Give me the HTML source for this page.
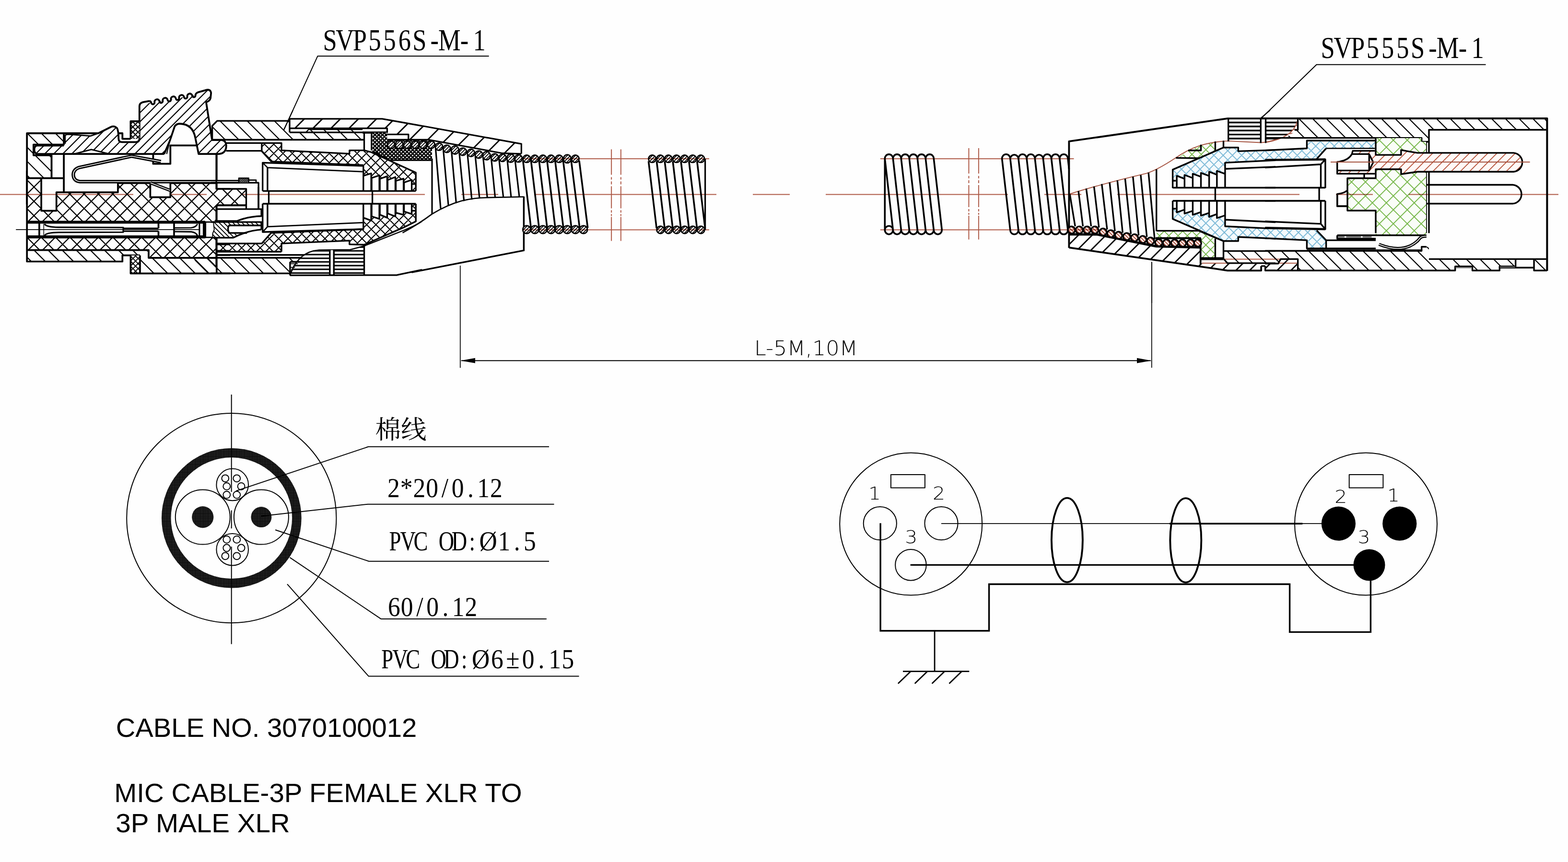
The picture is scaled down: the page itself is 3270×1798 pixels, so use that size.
<!DOCTYPE html>
<html lang="en"><head><meta charset="utf-8"><title>MIC CABLE-3P FEMALE XLR TO 3P MALE XLR</title>
<style>html,body{margin:0;padding:0;background:#fefefe;}body{width:3270px;height:1798px;overflow:hidden;position:relative;}svg{position:absolute;left:0;top:0;display:block}text{font-family:"Liberation Sans",sans-serif;fill:#000}</style></head><body>
<svg width="3270" height="1798" viewBox="0 0 3270 1798" stroke-linecap="butt" stroke-linejoin="round">
<defs>
<clipPath id="c1"><path d="M 1352.5 331.2 A 7.7 7.7 0 1 0 1367.9 331.2 A 7.7 7.7 0 1 0 1352.5 331.2 Z"/></clipPath>
<clipPath id="c2"><path d="M 1369.4 331.2 A 7.7 7.7 0 1 0 1384.8 331.2 A 7.7 7.7 0 1 0 1369.4 331.2 Z"/></clipPath>
<clipPath id="c3"><path d="M 1386.2 331.2 A 7.7 7.7 0 1 0 1401.6 331.2 A 7.7 7.7 0 1 0 1386.2 331.2 Z"/></clipPath>
<clipPath id="c4"><path d="M 1403.1 331.2 A 7.7 7.7 0 1 0 1418.5 331.2 A 7.7 7.7 0 1 0 1403.1 331.2 Z"/></clipPath>
<clipPath id="c5"><path d="M 1420 331.2 A 7.7 7.7 0 1 0 1435.4 331.2 A 7.7 7.7 0 1 0 1420 331.2 Z"/></clipPath>
<clipPath id="c6"><path d="M 1436.8 331.2 A 7.7 7.7 0 1 0 1452.2 331.2 A 7.7 7.7 0 1 0 1436.8 331.2 Z"/></clipPath>
<clipPath id="c7"><path d="M 1453.7 331.2 A 7.7 7.7 0 1 0 1469.1 331.2 A 7.7 7.7 0 1 0 1453.7 331.2 Z"/></clipPath>
<clipPath id="c8"><path d="M 1369.6 479.4 A 7.7 7.7 0 1 0 1385 479.4 A 7.7 7.7 0 1 0 1369.6 479.4 Z"/></clipPath>
<clipPath id="c9"><path d="M 1386.5 479.4 A 7.7 7.7 0 1 0 1401.9 479.4 A 7.7 7.7 0 1 0 1386.5 479.4 Z"/></clipPath>
<clipPath id="c10"><path d="M 1403.3 479.4 A 7.7 7.7 0 1 0 1418.7 479.4 A 7.7 7.7 0 1 0 1403.3 479.4 Z"/></clipPath>
<clipPath id="c11"><path d="M 1420.2 479.4 A 7.7 7.7 0 1 0 1435.6 479.4 A 7.7 7.7 0 1 0 1420.2 479.4 Z"/></clipPath>
<clipPath id="c12"><path d="M 1437.1 479.4 A 7.7 7.7 0 1 0 1452.5 479.4 A 7.7 7.7 0 1 0 1437.1 479.4 Z"/></clipPath>
<clipPath id="c13"><path d="M 1453.9 479.4 A 7.7 7.7 0 1 0 1469.3 479.4 A 7.7 7.7 0 1 0 1453.9 479.4 Z"/></clipPath>
<clipPath id="c14"><path d="M 56.2 371.7 L 86.1 371.7 L 86.1 439.6 L 117.7 439.6 L 117.7 401.1 L 245.9 401.1 L 245.9 382 L 313.4 382 L 313.4 411.4 L 355.3 411.4 L 355.3 382 L 451.8 382 L 451.8 395.1 L 513.3 395.1 L 513.3 428.4 L 451.8 428.4 L 451.8 460.9 L 56.2 460.9 Z"/></clipPath>
<clipPath id="c15"><path d="M 56.2 496.8 L 451.8 496.8 L 451.8 537.8 L 310 537.8 L 310 521.6 L 56.2 521.6 Z"/></clipPath>
<clipPath id="c16"><path d="M 56.2 521.6 L 310 521.6 L 310 532.7 L 255.3 532.7 L 255.3 545.5 L 56.2 545.5 Z"/></clipPath>
<clipPath id="c17"><path d="M 272.4 532.7 L 292 532.7 L 292 570.3 L 272.4 570.3 Z"/></clipPath>
<clipPath id="c18"><path d="M 292 532.7 L 310 532.7 L 310 537.8 L 451.8 537.8 L 451.8 570.3 L 292 570.3 Z"/></clipPath>
<clipPath id="c19"><path d="M 56.2 278 L 133.1 278 L 133.1 301.6 L 69.9 301.6 L 69.9 323.8 L 107.5 323.8 L 107.5 371.6 L 56.2 371.6 Z"/></clipPath>
<clipPath id="c20"><path d="M 76.7 303.6 L 133.1 303.6 L 135.7 299.9 L 135.7 284.5 Q 135.7 280.2 142.5 280.2 L 188.7 283.6 L 204 278.5 L 231.4 264.8 Q 238.2 261.4 244.2 267.4 Q 247.1 272.5 247.3 289.6 Q 247.6 296.4 254.4 296.4 L 283.5 296.4 Q 290.8 296.4 290.8 288.8 L 290.8 221.3 Q 291.2 214.8 298 213.1 L 311.7 214.8 L 407.4 198.2 L 411.7 192.9 L 431.3 187.4 Q 439 186.2 440.2 193.9 L 439 205 Q 437.3 211 429.9 213.1 L 441.9 289.6 L 442.9 292.2 L 462.1 292.2 Q 470.6 293 471.8 302.4 L 471.5 308.7 Q 468.9 320.4 456.9 321.2 L 414.2 321.2 L 407.4 287.9 Q 402.3 258.9 374.9 258 Q 368.1 258 364.3 263.6 L 354.4 293 L 342.4 321.2 L 228 321.2 L 190.4 311.8 L 154.5 321.2 L 76.7 320.7 Q 70.8 318.7 71.6 311.8 Q 71.6 305.8 76.7 303.6 Z"/></clipPath>
<clipPath id="c21"><path d="M 272.4 252.9 L 290.8 252.9 L 290.8 289.6 L 272.4 289.6 Z"/></clipPath>
<clipPath id="c22"><path d="M 405.8 537.8 L 634.8 537.8 L 624.5 546.3 L 604.9 546.3 L 604.9 570.3 L 405.8 570.3 Z"/></clipPath>
<clipPath id="c23"><path d="M 604.9 573.7 L 604.9 567.7 Q 619.4 531.8 653.6 523.3 L 665.6 521.6 L 730.5 520.7 L 759.5 513 L 759.5 573.7 Z"/></clipPath>
<clipPath id="c24"><path d="M 604.9 546.3 L 624.5 546.3 L 612.6 560.9 L 604.9 573.7 Z"/></clipPath>
<clipPath id="c25"><path d="M 452 507.9 L 545.9 507.9 L 565.6 485.7 L 757.8 478 L 757.8 454.1 L 774.1 460.1 L 775.8 451.5 L 791.1 456.6 L 792.9 448.1 L 807.4 454.1 L 809.1 445.5 L 824.5 451.5 L 826.2 443.8 L 841.6 448.1 L 843.3 441.3 L 858.6 446.4 L 858.6 425 L 867.2 425 L 867.2 461.8 Q 841.6 475.4 815.9 485.7 L 759.5 510.5 L 728.8 509.6 L 728.8 501.9 L 587 507.9 L 587 525 L 452 525 Z"/></clipPath>
<clipPath id="c26"><path d="M 445.1 463.5 L 545.1 463.5 L 545.1 470.3 L 477.6 470.3 Q 473.3 477.1 477.6 485.7 L 496.4 488.3 L 486.1 495.9 L 443.4 495.9 L 443.4 487.4 L 446.8 478.9 L 445.1 470.3 Z"/></clipPath>
<clipPath id="c27"><path d="M 442.6 262.5 L 452.8 252.2 L 604 252.2 L 604 276.1 L 638.2 276.1 L 643.3 270.2 L 756.1 270.2 L 759.5 277 L 759.5 291.5 L 442.6 291.5 Z"/></clipPath>
<clipPath id="c28"><path d="M 604 247.9 L 797.1 247.9 L 880 262.5 L 880 291.5 L 851.8 291.5 L 851.8 280.4 L 807.4 280.4 L 807.4 267.6 L 604 267.6 Z"/></clipPath>
<clipPath id="c29"><path d="M 776.6 277 L 807.4 277 L 807.4 293.2 L 901 293.2 L 901 334.2 L 812.5 334.2 L 776.6 315.4 Z"/></clipPath>
<clipPath id="c30"><path d="M 545.9 298.3 L 587 298.3 L 587 313.7 L 728.8 320.6 L 728.8 313.7 L 759.5 313.7 L 773.2 317.1 L 867.2 359.9 L 867.2 398.3 L 858.6 398.3 L 858.6 375.2 L 843.3 380.4 L 841.6 372.7 L 826.2 377 L 824.5 369.3 L 809.1 375.2 L 807.4 367.6 L 792.9 372.7 L 791.1 365.8 L 775.8 371 L 774.1 361.6 L 757.8 366.7 L 757.8 344.5 L 565.6 336.8 L 545.9 315.4 Z"/></clipPath>
<clipPath id="c31"><path d="M 498.1 371.5 L 518.6 371.5 L 518.6 380.4 L 498.1 380.4 Z"/></clipPath>
<clipPath id="c32"><path d="M 880 262.5 L 1087.3 300.1 L 1087.3 320.6 L 1048 318.9 L 894.2 291.5 L 880 291.5 Z"/></clipPath>
<clipPath id="c33"><path d="M 1090.2 478.9 A 8.2 8.2 0 1 0 1106.6 478.9 A 8.2 8.2 0 1 0 1090.2 478.9 Z"/></clipPath>
<clipPath id="c34"><path d="M 1107.1 478.9 A 8.2 8.2 0 1 0 1123.5 478.9 A 8.2 8.2 0 1 0 1107.1 478.9 Z"/></clipPath>
<clipPath id="c35"><path d="M 1124 478.9 A 8.2 8.2 0 1 0 1140.4 478.9 A 8.2 8.2 0 1 0 1124 478.9 Z"/></clipPath>
<clipPath id="c36"><path d="M 1140.9 478.9 A 8.2 8.2 0 1 0 1157.3 478.9 A 8.2 8.2 0 1 0 1140.9 478.9 Z"/></clipPath>
<clipPath id="c37"><path d="M 1157.8 478.9 A 8.2 8.2 0 1 0 1174.2 478.9 A 8.2 8.2 0 1 0 1157.8 478.9 Z"/></clipPath>
<clipPath id="c38"><path d="M 1174.7 478.9 A 8.2 8.2 0 1 0 1191.2 478.9 A 8.2 8.2 0 1 0 1174.7 478.9 Z"/></clipPath>
<clipPath id="c39"><path d="M 1191.7 478.9 A 8.2 8.2 0 1 0 1208.1 478.9 A 8.2 8.2 0 1 0 1191.7 478.9 Z"/></clipPath>
<clipPath id="c40"><path d="M 1208.6 478.9 A 8.2 8.2 0 1 0 1225 478.9 A 8.2 8.2 0 1 0 1208.6 478.9 Z"/></clipPath>
<clipPath id="c41"><path d="M 807.9 301.8 A 7.7 7.7 0 1 0 823.3 301.8 A 7.7 7.7 0 1 0 807.9 301.8 Z"/></clipPath>
<clipPath id="c42"><path d="M 825 301.8 A 7.7 7.7 0 1 0 840.3 301.8 A 7.7 7.7 0 1 0 825 301.8 Z"/></clipPath>
<clipPath id="c43"><path d="M 841.7 301.8 A 7.7 7.7 0 1 0 857.1 301.8 A 7.7 7.7 0 1 0 841.7 301.8 Z"/></clipPath>
<clipPath id="c44"><path d="M 858.3 301.8 A 7.7 7.7 0 1 0 873.7 301.8 A 7.7 7.7 0 1 0 858.3 301.8 Z"/></clipPath>
<clipPath id="c45"><path d="M 874.5 301.8 A 7.7 7.7 0 1 0 889.9 301.8 A 7.7 7.7 0 1 0 874.5 301.8 Z"/></clipPath>
<clipPath id="c46"><path d="M 891.6 301.8 A 7.7 7.7 0 1 0 907 301.8 A 7.7 7.7 0 1 0 891.6 301.8 Z"/></clipPath>
<clipPath id="c47"><path d="M 907.8 306 A 7.7 7.7 0 1 0 923.2 306 A 7.7 7.7 0 1 0 907.8 306 Z"/></clipPath>
<clipPath id="c48"><path d="M 924.1 310.3 A 7.7 7.7 0 1 0 939.5 310.3 A 7.7 7.7 0 1 0 924.1 310.3 Z"/></clipPath>
<clipPath id="c49"><path d="M 941.2 312.9 A 7.7 7.7 0 1 0 956.5 312.9 A 7.7 7.7 0 1 0 941.2 312.9 Z"/></clipPath>
<clipPath id="c50"><path d="M 957.4 316.3 A 7.7 7.7 0 1 0 972.8 316.3 A 7.7 7.7 0 1 0 957.4 316.3 Z"/></clipPath>
<clipPath id="c51"><path d="M 974.5 318.9 A 7.7 7.7 0 1 0 989.9 318.9 A 7.7 7.7 0 1 0 974.5 318.9 Z"/></clipPath>
<clipPath id="c52"><path d="M 990.7 322.3 A 7.7 7.7 0 1 0 1006.1 322.3 A 7.7 7.7 0 1 0 990.7 322.3 Z"/></clipPath>
<clipPath id="c53"><path d="M 1007 324.8 A 7.7 7.7 0 1 0 1022.3 324.8 A 7.7 7.7 0 1 0 1007 324.8 Z"/></clipPath>
<clipPath id="c54"><path d="M 1024 328.3 A 7.7 7.7 0 1 0 1039.4 328.3 A 7.7 7.7 0 1 0 1024 328.3 Z"/></clipPath>
<clipPath id="c55"><path d="M 1040.3 329.1 A 7.7 7.7 0 1 0 1055.7 329.1 A 7.7 7.7 0 1 0 1040.3 329.1 Z"/></clipPath>
<clipPath id="c56"><path d="M 1057.4 330 A 7.7 7.7 0 1 0 1072.7 330 A 7.7 7.7 0 1 0 1057.4 330 Z"/></clipPath>
<clipPath id="c57"><path d="M 1073.6 330.5 A 7.7 7.7 0 1 0 1089 330.5 A 7.7 7.7 0 1 0 1073.6 330.5 Z"/></clipPath>
<clipPath id="c58"><path d="M 1090.7 331.2 A 7.7 7.7 0 1 0 1106.1 331.2 A 7.7 7.7 0 1 0 1090.7 331.2 Z"/></clipPath>
<clipPath id="c59"><path d="M 1107.6 331.2 A 7.7 7.7 0 1 0 1123 331.2 A 7.7 7.7 0 1 0 1107.6 331.2 Z"/></clipPath>
<clipPath id="c60"><path d="M 1124.5 331.2 A 7.7 7.7 0 1 0 1139.9 331.2 A 7.7 7.7 0 1 0 1124.5 331.2 Z"/></clipPath>
<clipPath id="c61"><path d="M 1141.4 331.2 A 7.7 7.7 0 1 0 1156.8 331.2 A 7.7 7.7 0 1 0 1141.4 331.2 Z"/></clipPath>
<clipPath id="c62"><path d="M 1158.3 331.2 A 7.7 7.7 0 1 0 1173.7 331.2 A 7.7 7.7 0 1 0 1158.3 331.2 Z"/></clipPath>
<clipPath id="c63"><path d="M 1175.3 331.2 A 7.7 7.7 0 1 0 1190.6 331.2 A 7.7 7.7 0 1 0 1175.3 331.2 Z"/></clipPath>
<clipPath id="c64"><path d="M 1192.2 331.2 A 7.7 7.7 0 1 0 1207.6 331.2 A 7.7 7.7 0 1 0 1192.2 331.2 Z"/></clipPath>
<clipPath id="c65"><path d="M 2445.6 353.9 L 2551.5 307.7 L 2582.3 307.7 L 2582.3 315.4 L 2660 312.9 L 2660 334.2 L 2554.9 339.4 L 2554.9 362.4 L 2537.8 356.4 L 2537 364.1 L 2521.6 358.2 L 2519.9 366.7 L 2504.5 360.7 L 2503.7 368.4 L 2487.4 362.4 L 2486.6 371 L 2470.3 365 L 2469.5 372.7 L 2454.1 366.7 L 2454.1 377 L 2445.6 377 Z"/></clipPath>
<clipPath id="c66"><path d="M 2459.2 328.8 L 2476.3 313.7 L 2501.9 303.8 L 2532.7 296.3 L 2532.7 315.4 L 2501.9 329.1 Z"/></clipPath>
<clipPath id="c67"><path d="M 2561.7 247.1 L 2629.2 247.1 L 2629.2 293.2 L 2561.7 293.2 Z"/></clipPath>
<clipPath id="c68"><path d="M 2445.6 436.1 L 2454.1 436.1 L 2454.1 443 L 2469.5 437.8 L 2470.3 445.5 L 2486.6 440.4 L 2487.4 448.1 L 2503.7 443 L 2504.5 449.8 L 2519.9 444.7 L 2521.6 452.4 L 2537 447.2 L 2537.8 454.9 L 2554.1 449 L 2554.9 472 L 2660 477.1 L 2660 497.7 L 2582.3 494.2 L 2582.3 502.8 L 2551.5 502.8 L 2445.6 456.6 Z"/></clipPath>
<clipPath id="c69"><path d="M 2412.2 483.1 L 2500.2 483.1 L 2532.7 497.7 L 2532.7 537 L 2504.5 537 L 2504.5 496.8 L 2412.2 496.8 Z"/></clipPath>
<clipPath id="c70"><path d="M 2229.4 489.1 L 2288.3 489.1 L 2411.4 513.9 L 2503.7 516.1 L 2503.7 549.8 L 2630.1 549.8 L 2630.1 564.3 L 2560 564.3 L 2229.4 516.4 Z"/></clipPath>
<clipPath id="c71"><path d="M 2227 479.7 A 7.5 7.5 0 1 0 2242 479.7 A 7.5 7.5 0 1 0 2227 479.7 Z"/></clipPath>
<clipPath id="c72"><path d="M 2243.2 479.7 A 7.5 7.5 0 1 0 2258.3 479.7 A 7.5 7.5 0 1 0 2243.2 479.7 Z"/></clipPath>
<clipPath id="c73"><path d="M 2259.5 479.7 A 7.5 7.5 0 1 0 2274.5 479.7 A 7.5 7.5 0 1 0 2259.5 479.7 Z"/></clipPath>
<clipPath id="c74"><path d="M 2275.7 479.7 A 7.5 7.5 0 1 0 2290.7 479.7 A 7.5 7.5 0 1 0 2275.7 479.7 Z"/></clipPath>
<clipPath id="c75"><path d="M 2292.8 484 A 7.5 7.5 0 1 0 2307.8 484 A 7.5 7.5 0 1 0 2292.8 484 Z"/></clipPath>
<clipPath id="c76"><path d="M 2309 487.4 A 7.5 7.5 0 1 0 2324.1 487.4 A 7.5 7.5 0 1 0 2309 487.4 Z"/></clipPath>
<clipPath id="c77"><path d="M 2325.3 490.8 A 7.5 7.5 0 1 0 2340.3 490.8 A 7.5 7.5 0 1 0 2325.3 490.8 Z"/></clipPath>
<clipPath id="c78"><path d="M 2342.3 493.4 A 7.5 7.5 0 1 0 2357.4 493.4 A 7.5 7.5 0 1 0 2342.3 493.4 Z"/></clipPath>
<clipPath id="c79"><path d="M 2358.6 495.9 A 7.5 7.5 0 1 0 2373.6 495.9 A 7.5 7.5 0 1 0 2358.6 495.9 Z"/></clipPath>
<clipPath id="c80"><path d="M 2375.7 499.4 A 7.5 7.5 0 1 0 2390.7 499.4 A 7.5 7.5 0 1 0 2375.7 499.4 Z"/></clipPath>
<clipPath id="c81"><path d="M 2391.9 502.8 A 7.5 7.5 0 1 0 2406.9 502.8 A 7.5 7.5 0 1 0 2391.9 502.8 Z"/></clipPath>
<clipPath id="c82"><path d="M 2409 506.2 A 7.5 7.5 0 1 0 2424 506.2 A 7.5 7.5 0 1 0 2409 506.2 Z"/></clipPath>
<clipPath id="c83"><path d="M 2425.2 507 A 7.5 7.5 0 1 0 2440.3 507 A 7.5 7.5 0 1 0 2425.2 507 Z"/></clipPath>
<clipPath id="c84"><path d="M 2442.3 507 A 7.5 7.5 0 1 0 2457.3 507 A 7.5 7.5 0 1 0 2442.3 507 Z"/></clipPath>
<clipPath id="c85"><path d="M 2458.5 507 A 7.5 7.5 0 1 0 2473.6 507 A 7.5 7.5 0 1 0 2458.5 507 Z"/></clipPath>
<clipPath id="c86"><path d="M 2475.6 507 A 7.5 7.5 0 1 0 2490.7 507 A 7.5 7.5 0 1 0 2475.6 507 Z"/></clipPath>
<clipPath id="c87"><path d="M 2490.2 507 A 7.5 7.5 0 1 0 2505.2 507 A 7.5 7.5 0 1 0 2490.2 507 Z"/></clipPath>
<clipPath id="c88"><path d="M 2552.3 523.6 L 2660 523.6 L 2660 548.6 L 2559.7 548.6 L 2552.3 540.5 Z"/></clipPath>
<clipPath id="c89"><path d="M 2639.5 247.1 L 2706.6 247.1 Q 2701.5 286.4 2640 296.6 L 2639.5 297.5 Z"/></clipPath>
<clipPath id="c90"><path d="M 2706.6 247.1 L 2706.6 271 L 2681 287.2 L 2640 296.6 Q 2701.5 286.4 2706.6 247.1 Z"/></clipPath>
<clipPath id="c91"><path d="M 2706.6 247.1 L 3226.4 247.1 L 3226.4 270.7 L 2980 270.7 L 2980 295.8 L 2964.7 295.8 L 2964.7 287.2 L 2681 287.2 L 2706.6 271 Z"/></clipPath>
<clipPath id="c92"><path d="M 2727.1 293.2 L 2867.3 293.2 L 2867.3 308.9 L 2765.6 309.5 L 2745.9 331.2 L 2638.3 333.4 L 2638.3 313.7 L 2725.4 309.5 L 2725.4 293.2 Z"/></clipPath>
<clipPath id="c93"><path d="M 2821.1 315.4 L 2867.3 315.4 L 2867.3 323.1 L 2921.9 323.1 L 2921.9 313.7 L 2956.1 318.9 L 3156.4 318.9 A 19.7 19.7 0 0 1 3156.4 358.2 L 2956.1 358.2 L 2921.9 363.3 L 2921.9 353 L 2867.3 353 L 2867.3 362.4 L 2788.7 362.4 L 2788.7 355.6 L 2855.3 355.6 L 2863.8 338.5 L 2855.3 321.4 L 2819.4 321.4 Z"/></clipPath>
<clipPath id="c94"><path d="M 2869 288.1 L 2963.8 288.1 L 2963.8 295.8 L 2974.1 295.8 L 2974.1 316.3 L 2956.1 318 L 2921.9 312.9 L 2921.9 323.1 L 2869 323.1 Z"/></clipPath>
<clipPath id="c95"><path d="M 2869 353.9 L 2921.9 353.9 L 2921.9 363.3 L 2956.1 358.2 L 2974.1 359 L 2974.1 491.4 L 2869 491.4 L 2869 439.3 L 2810 439.3 L 2810 371.8 L 2869 371.8 Z"/></clipPath>
<clipPath id="c96"><path d="M 2638.3 523.3 L 2964.7 523.3 L 2964.7 514.7 L 2980 514.7 L 2980 540.4 L 3160.7 540.4 L 3160.7 555.7 L 3127.3 555.7 L 3127.3 564.3 L 3070.6 564.3 L 3070.6 555.7 L 3034.7 555.7 L 3034.7 564.3 L 2706.6 564.3 L 2706.6 540.4 L 2670.8 540.4 L 2665.6 549.8 L 2638.3 549.8 Z"/></clipPath>
<clipPath id="c97"><path d="M 2638.3 549.8 L 2665.6 549.8 L 2670.8 540.4 L 2706.6 540.4 L 2706.6 564.3 L 2638.3 564.3 Z"/></clipPath>
<clipPath id="c98"><path d="M 3199.1 540.4 L 3226.4 540.4 L 3226.4 564.3 L 3199.1 564.3 Z"/></clipPath>
<clipPath id="c99"><path d="M 2638.3 478 L 2745.9 480.6 L 2765.6 501.1 L 2765.6 518.2 L 2725.4 518.2 L 2725.4 501.1 L 2638.3 496.8 Z"/></clipPath>
<pattern id="dots" width="3.4" height="3.4" patternUnits="userSpaceOnUse"><rect width="3.4" height="3.4" fill="#0c0c0c"/><circle cx="1.7" cy="1.7" r="0.55" fill="#9a9a9a"/></pattern>
</defs>
<path d="M 1352.5 336.2 L 1369.3 476.4" stroke="#000" stroke-width="3.6" fill="none" />
<path d="M 1369.4 336.2 L 1386.2 476.4" stroke="#000" stroke-width="3.6" fill="none" />
<path d="M 1386.2 336.2 L 1403 476.4" stroke="#000" stroke-width="3.6" fill="none" />
<path d="M 1403.1 336.2 L 1419.9 476.4" stroke="#000" stroke-width="3.6" fill="none" />
<path d="M 1420 336.2 L 1436.8 476.4" stroke="#000" stroke-width="3.6" fill="none" />
<path d="M 1436.8 336.2 L 1453.6 476.4" stroke="#000" stroke-width="3.6" fill="none" />
<path d="M 1453.7 336.2 L 1470.5 476.4" stroke="#000" stroke-width="3.6" fill="none" />
<path d="M 1470.6 331.2 L 1470.6 479.4" stroke="#000" stroke-width="3.2" fill="none" />
<path d="M 1352.5 331.2 A 7.7 7.7 0 1 0 1367.9 331.2 A 7.7 7.7 0 1 0 1352.5 331.2 Z" fill="#fefefe" stroke="none" />
<g clip-path="url(#c1)" ><path d="M1332.1 313.8L1297.3 348.6M1338.6 313.8L1303.8 348.6M1345.1 313.8L1310.3 348.6M1351.6 313.8L1316.8 348.6M1358.1 313.8L1323.3 348.6M1364.6 313.8L1329.8 348.6M1371.1 313.8L1336.3 348.6M1377.6 313.8L1342.8 348.6M1384.1 313.8L1349.3 348.6M1390.6 313.8L1355.8 348.6M1397.1 313.8L1362.3 348.6M1403.6 313.8L1368.8 348.6M1410.1 313.8L1375.3 348.6M1416.6 313.8L1381.8 348.6M1423.1 313.8L1388.3 348.6" stroke="#000" stroke-width="1.8" fill="none"/></g>
<path d="M 1352.5 331.2 A 7.7 7.7 0 1 0 1367.9 331.2 A 7.7 7.7 0 1 0 1352.5 331.2 Z" stroke="#000" stroke-width="2.8000000000000003" fill="none" />
<path d="M 1369.4 331.2 A 7.7 7.7 0 1 0 1384.8 331.2 A 7.7 7.7 0 1 0 1369.4 331.2 Z" fill="#fefefe" stroke="none" />
<g clip-path="url(#c2)" ><path d="M1349 313.8L1314.2 348.6M1355.5 313.8L1320.7 348.6M1362 313.8L1327.2 348.6M1368.5 313.8L1333.7 348.6M1375 313.8L1340.2 348.6M1381.5 313.8L1346.7 348.6M1388 313.8L1353.2 348.6M1394.5 313.8L1359.7 348.6M1401 313.8L1366.2 348.6M1407.5 313.8L1372.7 348.6M1414 313.8L1379.2 348.6M1420.5 313.8L1385.7 348.6M1427 313.8L1392.2 348.6M1433.5 313.8L1398.7 348.6M1440 313.8L1405.2 348.6" stroke="#000" stroke-width="1.8" fill="none"/></g>
<path d="M 1369.4 331.2 A 7.7 7.7 0 1 0 1384.8 331.2 A 7.7 7.7 0 1 0 1369.4 331.2 Z" stroke="#000" stroke-width="2.8000000000000003" fill="none" />
<path d="M 1386.2 331.2 A 7.7 7.7 0 1 0 1401.6 331.2 A 7.7 7.7 0 1 0 1386.2 331.2 Z" fill="#fefefe" stroke="none" />
<g clip-path="url(#c3)" ><path d="M1365.8 313.8L1331 348.6M1372.3 313.8L1337.5 348.6M1378.8 313.8L1344 348.6M1385.3 313.8L1350.5 348.6M1391.8 313.8L1357 348.6M1398.3 313.8L1363.5 348.6M1404.8 313.8L1370 348.6M1411.3 313.8L1376.5 348.6M1417.8 313.8L1383 348.6M1424.3 313.8L1389.5 348.6M1430.8 313.8L1396 348.6M1437.3 313.8L1402.5 348.6M1443.8 313.8L1409 348.6M1450.3 313.8L1415.5 348.6M1456.8 313.8L1422 348.6" stroke="#000" stroke-width="1.8" fill="none"/></g>
<path d="M 1386.2 331.2 A 7.7 7.7 0 1 0 1401.6 331.2 A 7.7 7.7 0 1 0 1386.2 331.2 Z" stroke="#000" stroke-width="2.8000000000000003" fill="none" />
<path d="M 1403.1 331.2 A 7.7 7.7 0 1 0 1418.5 331.2 A 7.7 7.7 0 1 0 1403.1 331.2 Z" fill="#fefefe" stroke="none" />
<g clip-path="url(#c4)" ><path d="M1382.7 313.8L1347.9 348.6M1389.2 313.8L1354.4 348.6M1395.7 313.8L1360.9 348.6M1402.2 313.8L1367.4 348.6M1408.7 313.8L1373.9 348.6M1415.2 313.8L1380.4 348.6M1421.7 313.8L1386.9 348.6M1428.2 313.8L1393.4 348.6M1434.7 313.8L1399.9 348.6M1441.2 313.8L1406.4 348.6M1447.7 313.8L1412.9 348.6M1454.2 313.8L1419.4 348.6M1460.7 313.8L1425.9 348.6M1467.2 313.8L1432.4 348.6M1473.7 313.8L1438.9 348.6" stroke="#000" stroke-width="1.8" fill="none"/></g>
<path d="M 1403.1 331.2 A 7.7 7.7 0 1 0 1418.5 331.2 A 7.7 7.7 0 1 0 1403.1 331.2 Z" stroke="#000" stroke-width="2.8000000000000003" fill="none" />
<path d="M 1420 331.2 A 7.7 7.7 0 1 0 1435.4 331.2 A 7.7 7.7 0 1 0 1420 331.2 Z" fill="#fefefe" stroke="none" />
<g clip-path="url(#c5)" ><path d="M1399.6 313.8L1364.8 348.6M1406.1 313.8L1371.3 348.6M1412.6 313.8L1377.8 348.6M1419.1 313.8L1384.3 348.6M1425.6 313.8L1390.8 348.6M1432.1 313.8L1397.3 348.6M1438.6 313.8L1403.8 348.6M1445.1 313.8L1410.3 348.6M1451.6 313.8L1416.8 348.6M1458.1 313.8L1423.3 348.6M1464.6 313.8L1429.8 348.6M1471.1 313.8L1436.3 348.6M1477.6 313.8L1442.8 348.6M1484.1 313.8L1449.3 348.6M1490.6 313.8L1455.8 348.6" stroke="#000" stroke-width="1.8" fill="none"/></g>
<path d="M 1420 331.2 A 7.7 7.7 0 1 0 1435.4 331.2 A 7.7 7.7 0 1 0 1420 331.2 Z" stroke="#000" stroke-width="2.8000000000000003" fill="none" />
<path d="M 1436.8 331.2 A 7.7 7.7 0 1 0 1452.2 331.2 A 7.7 7.7 0 1 0 1436.8 331.2 Z" fill="#fefefe" stroke="none" />
<g clip-path="url(#c6)" ><path d="M1416.5 313.8L1381.7 348.6M1423 313.8L1388.2 348.6M1429.5 313.8L1394.7 348.6M1436 313.8L1401.2 348.6M1442.5 313.8L1407.7 348.6M1449 313.8L1414.2 348.6M1455.5 313.8L1420.7 348.6M1462 313.8L1427.2 348.6M1468.5 313.8L1433.7 348.6M1475 313.8L1440.2 348.6M1481.5 313.8L1446.7 348.6M1488 313.8L1453.2 348.6M1494.5 313.8L1459.7 348.6M1501 313.8L1466.2 348.6M1507.5 313.8L1472.7 348.6" stroke="#000" stroke-width="1.8" fill="none"/></g>
<path d="M 1436.8 331.2 A 7.7 7.7 0 1 0 1452.2 331.2 A 7.7 7.7 0 1 0 1436.8 331.2 Z" stroke="#000" stroke-width="2.8000000000000003" fill="none" />
<path d="M 1453.7 331.2 A 7.7 7.7 0 1 0 1469.1 331.2 A 7.7 7.7 0 1 0 1453.7 331.2 Z" fill="#fefefe" stroke="none" />
<g clip-path="url(#c7)" ><path d="M1433.3 313.8L1398.5 348.6M1439.8 313.8L1405 348.6M1446.3 313.8L1411.5 348.6M1452.8 313.8L1418 348.6M1459.3 313.8L1424.5 348.6M1465.8 313.8L1431 348.6M1472.3 313.8L1437.5 348.6M1478.8 313.8L1444 348.6M1485.3 313.8L1450.5 348.6M1491.8 313.8L1457 348.6M1498.3 313.8L1463.5 348.6M1504.8 313.8L1470 348.6M1511.3 313.8L1476.5 348.6M1517.8 313.8L1483 348.6M1524.3 313.8L1489.5 348.6" stroke="#000" stroke-width="1.8" fill="none"/></g>
<path d="M 1453.7 331.2 A 7.7 7.7 0 1 0 1469.1 331.2 A 7.7 7.7 0 1 0 1453.7 331.2 Z" stroke="#000" stroke-width="2.8000000000000003" fill="none" />
<path d="M 1369.6 479.4 A 7.7 7.7 0 1 0 1385 479.4 A 7.7 7.7 0 1 0 1369.6 479.4 Z" fill="#fefefe" stroke="none" />
<g clip-path="url(#c8)" ><path d="M1349.2 462L1314.4 496.8M1355.7 462L1320.9 496.8M1362.2 462L1327.4 496.8M1368.7 462L1333.9 496.8M1375.2 462L1340.4 496.8M1381.7 462L1346.9 496.8M1388.2 462L1353.4 496.8M1394.7 462L1359.9 496.8M1401.2 462L1366.4 496.8M1407.7 462L1372.9 496.8M1414.2 462L1379.4 496.8M1420.7 462L1385.9 496.8M1427.2 462L1392.4 496.8M1433.7 462L1398.9 496.8M1440.2 462L1405.4 496.8" stroke="#000" stroke-width="1.8" fill="none"/></g>
<path d="M 1369.6 479.4 A 7.7 7.7 0 1 0 1385 479.4 A 7.7 7.7 0 1 0 1369.6 479.4 Z" stroke="#000" stroke-width="2.8000000000000003" fill="none" />
<path d="M 1386.5 479.4 A 7.7 7.7 0 1 0 1401.9 479.4 A 7.7 7.7 0 1 0 1386.5 479.4 Z" fill="#fefefe" stroke="none" />
<g clip-path="url(#c9)" ><path d="M1366.1 462L1331.3 496.8M1372.6 462L1337.8 496.8M1379.1 462L1344.3 496.8M1385.6 462L1350.8 496.8M1392.1 462L1357.3 496.8M1398.6 462L1363.8 496.8M1405.1 462L1370.3 496.8M1411.6 462L1376.8 496.8M1418.1 462L1383.3 496.8M1424.6 462L1389.8 496.8M1431.1 462L1396.3 496.8M1437.6 462L1402.8 496.8M1444.1 462L1409.3 496.8M1450.6 462L1415.8 496.8M1457.1 462L1422.3 496.8" stroke="#000" stroke-width="1.8" fill="none"/></g>
<path d="M 1386.5 479.4 A 7.7 7.7 0 1 0 1401.9 479.4 A 7.7 7.7 0 1 0 1386.5 479.4 Z" stroke="#000" stroke-width="2.8000000000000003" fill="none" />
<path d="M 1403.3 479.4 A 7.7 7.7 0 1 0 1418.7 479.4 A 7.7 7.7 0 1 0 1403.3 479.4 Z" fill="#fefefe" stroke="none" />
<g clip-path="url(#c10)" ><path d="M1382.9 462L1348.1 496.8M1389.4 462L1354.6 496.8M1395.9 462L1361.1 496.8M1402.4 462L1367.6 496.8M1408.9 462L1374.1 496.8M1415.4 462L1380.6 496.8M1421.9 462L1387.1 496.8M1428.4 462L1393.6 496.8M1434.9 462L1400.1 496.8M1441.4 462L1406.6 496.8M1447.9 462L1413.1 496.8M1454.4 462L1419.6 496.8M1460.9 462L1426.1 496.8M1467.4 462L1432.6 496.8M1473.9 462L1439.1 496.8" stroke="#000" stroke-width="1.8" fill="none"/></g>
<path d="M 1403.3 479.4 A 7.7 7.7 0 1 0 1418.7 479.4 A 7.7 7.7 0 1 0 1403.3 479.4 Z" stroke="#000" stroke-width="2.8000000000000003" fill="none" />
<path d="M 1420.2 479.4 A 7.7 7.7 0 1 0 1435.6 479.4 A 7.7 7.7 0 1 0 1420.2 479.4 Z" fill="#fefefe" stroke="none" />
<g clip-path="url(#c11)" ><path d="M1399.8 462L1365 496.8M1406.3 462L1371.5 496.8M1412.8 462L1378 496.8M1419.3 462L1384.5 496.8M1425.8 462L1391 496.8M1432.3 462L1397.5 496.8M1438.8 462L1404 496.8M1445.3 462L1410.5 496.8M1451.8 462L1417 496.8M1458.3 462L1423.5 496.8M1464.8 462L1430 496.8M1471.3 462L1436.5 496.8M1477.8 462L1443 496.8M1484.3 462L1449.5 496.8M1490.8 462L1456 496.8" stroke="#000" stroke-width="1.8" fill="none"/></g>
<path d="M 1420.2 479.4 A 7.7 7.7 0 1 0 1435.6 479.4 A 7.7 7.7 0 1 0 1420.2 479.4 Z" stroke="#000" stroke-width="2.8000000000000003" fill="none" />
<path d="M 1437.1 479.4 A 7.7 7.7 0 1 0 1452.5 479.4 A 7.7 7.7 0 1 0 1437.1 479.4 Z" fill="#fefefe" stroke="none" />
<g clip-path="url(#c12)" ><path d="M1416.7 462L1381.9 496.8M1423.2 462L1388.4 496.8M1429.7 462L1394.9 496.8M1436.2 462L1401.4 496.8M1442.7 462L1407.9 496.8M1449.2 462L1414.4 496.8M1455.7 462L1420.9 496.8M1462.2 462L1427.4 496.8M1468.7 462L1433.9 496.8M1475.2 462L1440.4 496.8M1481.7 462L1446.9 496.8M1488.2 462L1453.4 496.8M1494.7 462L1459.9 496.8M1501.2 462L1466.4 496.8M1507.7 462L1472.9 496.8" stroke="#000" stroke-width="1.8" fill="none"/></g>
<path d="M 1437.1 479.4 A 7.7 7.7 0 1 0 1452.5 479.4 A 7.7 7.7 0 1 0 1437.1 479.4 Z" stroke="#000" stroke-width="2.8000000000000003" fill="none" />
<path d="M 1453.9 479.4 A 7.7 7.7 0 1 0 1469.3 479.4 A 7.7 7.7 0 1 0 1453.9 479.4 Z" fill="#fefefe" stroke="none" />
<g clip-path="url(#c13)" ><path d="M1433.5 462L1398.7 496.8M1440 462L1405.2 496.8M1446.5 462L1411.7 496.8M1453 462L1418.2 496.8M1459.5 462L1424.7 496.8M1466 462L1431.2 496.8M1472.5 462L1437.7 496.8M1479 462L1444.2 496.8M1485.5 462L1450.7 496.8M1492 462L1457.2 496.8M1498.5 462L1463.7 496.8M1505 462L1470.2 496.8M1511.5 462L1476.7 496.8M1518 462L1483.2 496.8M1524.5 462L1489.7 496.8" stroke="#000" stroke-width="1.8" fill="none"/></g>
<path d="M 1453.9 479.4 A 7.7 7.7 0 1 0 1469.3 479.4 A 7.7 7.7 0 1 0 1453.9 479.4 Z" stroke="#000" stroke-width="2.8000000000000003" fill="none" />
<path d="M 1845.3 330.8 L 1845.3 479.8 M 1845.3 330.8 L 1862.3 479.8 M 1862.3 330.8 L 1879.3 479.8 M 1879.3 330.8 L 1896.3 479.8 M 1896.3 330.8 L 1913.3 479.8 M 1913.3 330.8 L 1930.3 479.8 M 1930.3 330.8 L 1947.3 479.8 M 1947.3 330.8 L 1964.3 479.8 M 1845.3 330.8 A 8.5 8.9 0 0 1 1862.3 330.8 M 1862.3 330.8 A 8.5 8.9 0 0 1 1879.3 330.8 M 1879.3 330.8 A 8.5 8.9 0 0 1 1896.3 330.8 M 1896.3 330.8 A 8.5 8.9 0 0 1 1913.3 330.8 M 1913.3 330.8 A 8.5 8.9 0 0 1 1930.3 330.8 M 1930.3 330.8 A 8.5 8.9 0 0 1 1947.3 330.8 M 1845.3 479.8 A 8.5 8.9 0 0 0 1862.3 479.8 M 1862.3 479.8 A 8.5 8.9 0 0 0 1879.3 479.8 M 1879.3 479.8 A 8.5 8.9 0 0 0 1896.3 479.8 M 1896.3 479.8 A 8.5 8.9 0 0 0 1913.3 479.8 M 1913.3 479.8 A 8.5 8.9 0 0 0 1930.3 479.8 M 1930.3 479.8 A 8.5 8.9 0 0 0 1947.3 479.8 M 1947.3 479.8 A 8.5 8.9 0 0 0 1964.3 479.8 M 1845.3 479.8 A 8.5 8.5 0 0 1 1862.3 479.8" stroke="#000" stroke-width="3.6" fill="none" />
<path d="M 2089.6 330.8 L 2106.8 479.8 M 2106.8 330.8 L 2123.9 479.8 M 2123.9 330.8 L 2141.1 479.8 M 2141.1 330.8 L 2158.3 479.8 M 2158.3 330.8 L 2175.4 479.8 M 2175.4 330.8 L 2192.6 479.8 M 2192.6 330.8 L 2209.8 479.8 M 2209.8 330.8 L 2227 479.8 M 2227 330.8 L 2229.5 352.8 M 2089.6 330.8 A 8.6 9 0 0 1 2106.8 330.8 M 2106.8 330.8 A 8.6 9 0 0 1 2123.9 330.8 M 2123.9 330.8 A 8.6 9 0 0 1 2141.1 330.8 M 2141.1 330.8 A 8.6 9 0 0 1 2158.3 330.8 M 2158.3 330.8 A 8.6 9 0 0 1 2175.4 330.8 M 2175.4 330.8 A 8.6 9 0 0 1 2192.6 330.8 M 2192.6 330.8 A 8.6 9 0 0 1 2209.8 330.8 M 2209.8 330.8 A 8.6 9 0 0 1 2227 330.8 M 2106.8 479.8 A 8.5 8.9 0 0 0 2123.9 479.8 M 2123.9 479.8 A 8.5 8.9 0 0 0 2141.1 479.8 M 2141.1 479.8 A 8.5 8.9 0 0 0 2158.3 479.8 M 2158.3 479.8 A 8.5 8.9 0 0 0 2175.4 479.8 M 2175.4 479.8 A 8.5 8.9 0 0 0 2192.6 479.8 M 2192.6 479.8 A 8.5 8.9 0 0 0 2209.8 479.8 M 2209.8 479.8 A 8.5 8.9 0 0 0 2227 479.8" stroke="#000" stroke-width="3.6" fill="none" />
<g clip-path="url(#c14)" ><path d="M31.3 369.7L-61.9 462.9M61.2 369.7L-32 462.9M91.1 369.7L-2.1 462.9M121 369.7L27.8 462.9M150.9 369.7L57.7 462.9M180.8 369.7L87.6 462.9M210.7 369.7L117.5 462.9M240.6 369.7L147.4 462.9M270.5 369.7L177.3 462.9M300.4 369.7L207.2 462.9M330.3 369.7L237.1 462.9M360.2 369.7L267 462.9M390.1 369.7L296.9 462.9M420 369.7L326.8 462.9M449.9 369.7L356.7 462.9M479.8 369.7L386.6 462.9M509.7 369.7L416.5 462.9M539.6 369.7L446.4 462.9M569.5 369.7L476.3 462.9M599.4 369.7L506.2 462.9M629.3 369.7L536.1 462.9M-39.3 369.7L53.9 462.9M-9.3 369.7L83.9 462.9M20.6 369.7L113.8 462.9M50.5 369.7L143.7 462.9M80.4 369.7L173.6 462.9M110.3 369.7L203.5 462.9M140.2 369.7L233.4 462.9M170.1 369.7L263.3 462.9M200 369.7L293.2 462.9M229.9 369.7L323.1 462.9M259.8 369.7L353 462.9M289.7 369.7L382.9 462.9M319.6 369.7L412.8 462.9M349.5 369.7L442.7 462.9M379.4 369.7L472.6 462.9M409.3 369.7L502.5 462.9M439.2 369.7L532.4 462.9M469.1 369.7L562.3 462.9M499 369.7L592.2 462.9M528.9 369.7L622.1 462.9" stroke="#000" stroke-width="2.3" fill="none"/></g>
<g clip-path="url(#c15)" ><path d="M25.8 494.8L-19.2 539.8M55.7 494.8L10.7 539.8M85.6 494.8L40.6 539.8M115.5 494.8L70.5 539.8M145.4 494.8L100.4 539.8M175.3 494.8L130.3 539.8M205.2 494.8L160.2 539.8M235.1 494.8L190.1 539.8M265 494.8L220 539.8M294.9 494.8L249.9 539.8M324.8 494.8L279.8 539.8M354.7 494.8L309.7 539.8M384.6 494.8L339.6 539.8M414.5 494.8L369.5 539.8M444.4 494.8L399.4 539.8M474.3 494.8L429.3 539.8M504.2 494.8L459.2 539.8M-3.9 494.8L41.1 539.8M26 494.8L71 539.8M55.9 494.8L100.9 539.8M85.8 494.8L130.8 539.8M115.8 494.8L160.8 539.8M145.7 494.8L190.7 539.8M175.6 494.8L220.6 539.8M205.5 494.8L250.5 539.8M235.4 494.8L280.4 539.8M265.3 494.8L310.3 539.8M295.2 494.8L340.2 539.8M325.1 494.8L370.1 539.8M355 494.8L400 539.8M384.9 494.8L429.9 539.8M414.8 494.8L459.8 539.8M444.7 494.8L489.7 539.8M474.6 494.8L519.6 539.8" stroke="#000" stroke-width="2.3" fill="none"/></g>
<path d="M 86.1 372.9 L 86.1 439.6 L 117.7 439.6 L 117.7 401.1 L 245.9 401.1 L 245.9 382" stroke="#000" stroke-width="3.7" fill="none" />
<path d="M 313.4 382 L 313.4 411.4 L 355.3 411.4 L 355.3 382" stroke="#000" stroke-width="3.7" fill="none" />
<path d="M 245.9 382 L 313.4 382 M 355.3 382 L 451.8 382" stroke="#000" stroke-width="3.7" fill="none" />
<g clip-path="url(#c16)" ><path d="M10 519.6L37.9 547.5M39.4 519.6L67.3 547.5M68.8 519.6L96.7 547.5M98.2 519.6L126.1 547.5M127.6 519.6L155.5 547.5M157 519.6L184.9 547.5M186.3 519.6L214.2 547.5M215.7 519.6L243.6 547.5M245.1 519.6L273 547.5M274.5 519.6L302.4 547.5M303.9 519.6L331.8 547.5M333.3 519.6L361.2 547.5" stroke="#000" stroke-width="2.3" fill="none"/></g>
<path d="M 56.2 355.8 L 56.2 545.5 L 255.3 545.5 L 255.3 532.7 L 292 532.7" stroke="#000" stroke-width="3.7" fill="none" />
<path d="M 56.2 521.6 L 310 521.6 L 310 537.8 L 451.8 537.8" stroke="#000" stroke-width="3.7" fill="none" />
<path d="M 272.4 532.7 L 292 532.7 L 292 570.3 L 272.4 570.3 Z" fill="#fefefe"/><g clip-path="url(#c17)" ><path d="M264.6 530.7L223 572.3M275.2 530.7L233.6 572.3M285.8 530.7L244.2 572.3M296.4 530.7L254.8 572.3M307 530.7L265.4 572.3M317.6 530.7L276 572.3M328.2 530.7L286.6 572.3M338.8 530.7L297.2 572.3M226.5 530.7L268.1 572.3M237.1 530.7L278.7 572.3M247.7 530.7L289.3 572.3M258.3 530.7L299.9 572.3M268.9 530.7L310.5 572.3M279.5 530.7L321.1 572.3M290.1 530.7L331.7 572.3M300.7 530.7L342.3 572.3" stroke="#000" stroke-width="2.0" fill="none"/></g>
<path d="M 272.4 532.7 L 272.4 570.3 L 480 570.3 M 292 532.7 L 292 570.3" stroke="#000" stroke-width="3.7" fill="none" />
<g clip-path="url(#c18)" ><path d="M224.1 530.7L265.7 572.3M252.8 530.7L294.4 572.3M281.5 530.7L323.1 572.3M310.2 530.7L351.8 572.3M338.9 530.7L380.5 572.3M367.6 530.7L409.2 572.3M396.3 530.7L437.9 572.3M425 530.7L466.6 572.3M453.8 530.7L495.4 572.3M482.5 530.7L524.1 572.3" stroke="#000" stroke-width="2.3" fill="none"/></g>
<path d="M 451.8 496.8 L 451.8 570.3 M 451.8 428.4 L 451.8 460.9" stroke="#000" stroke-width="3.7" fill="none" />
<path d="M 451.8 428.4 L 513.3 428.4" stroke="#000" stroke-width="3.7" fill="none" />
<path d="M 56.2 463.5 L 427.9 463.5 M 56.2 494.2 L 427.9 494.2" stroke="#000" stroke-width="6.2" fill="none" />
<path d="M 427.9 461.8 L 427.9 496.3" stroke="#000" stroke-width="4.3" fill="none" />
<path d="M 427.9 463.1 L 480 463.1 M 427.9 495.1 L 480 495.1" stroke="#000" stroke-width="2.9000000000000004" fill="none" />
<path d="M 33.2 478.9 L 415.9 478.9" stroke="#000" stroke-width="1.6" fill="none" />
<path d="M 81.9 466 L 81.9 492" stroke="#000" stroke-width="3.7" fill="none" />
<path d="M 91.3 466.9 L 91.3 491.7" stroke="#000" stroke-width="1.4" fill="none" />
<path d="M 93 467.2 Q 96.4 473.7 122 474.1 L 257 474.6 L 257 484.3 L 122 484.8 Q 96.4 485 93 491.5" stroke="#000" stroke-width="3.1" fill="none" />
<path d="M 257 476.3 L 330.5 476.3 M 257 482.3 L 330.5 482.3" stroke="#000" stroke-width="2.9000000000000004" fill="none" />
<path d="M 330.5 466 L 330.5 476.3 M 330.5 482.3 L 330.5 492 M 363 466 L 363 492" stroke="#000" stroke-width="3.7" fill="none" />
<path d="M 363 475.4 L 398.8 475.1 Q 409.1 473.7 411.7 467.2 M 363 483.1 L 398.8 483.5 Q 409.1 484.8 411.7 491.5" stroke="#000" stroke-width="2.9000000000000004" fill="none" />
<path d="M 415.9 466 L 415.9 492 M 424.5 466 L 424.5 492" stroke="#000" stroke-width="3.1" fill="none" />
<path d="M 451.8 509.6 L 480 509.6 M 451.8 523.3 L 480 523.3 M 451.8 531.8 L 480 531.8" stroke="#000" stroke-width="3.7" fill="none" />
<g clip-path="url(#c19)" ><path d="M-62.8 276L34.8 373.6M-33.4 276L64.2 373.6M-4 276L93.6 373.6M25.4 276L123 373.6M54.8 276L152.4 373.6M84.1 276L181.7 373.6M113.5 276L211.1 373.6M142.9 276L240.5 373.6" stroke="#000" stroke-width="2.2" fill="none"/></g>
<path d="M 56.2 426.3 L 56.2 278 L 204 278" stroke="#000" stroke-width="3.8" fill="none" />
<path d="M 133.1 278 L 133.1 301.6 L 69.9 301.6 L 69.9 323.8 L 107.5 323.8 L 107.5 371.6" stroke="#000" stroke-width="3.8" fill="none" />
<path d="M 56.2 371.6 L 133.1 371.6" stroke="#000" stroke-width="3.8" fill="none" />
<path d="M 133.1 322.1 L 133.1 400.7" stroke="#000" stroke-width="3.8" fill="none" />
<g clip-path="url(#c20)" ><path d="M60.8 184.2L-78.2 323.2M79.6 184.2L-59.4 323.2M98.4 184.2L-40.6 323.2M117.2 184.2L-21.8 323.2M136 184.2L-3 323.2M154.8 184.2L15.8 323.2M173.6 184.2L34.6 323.2M192.4 184.2L53.4 323.2M211.2 184.2L72.2 323.2M230 184.2L91 323.2M248.8 184.2L109.8 323.2M267.6 184.2L128.6 323.2M286.4 184.2L147.4 323.2M305.2 184.2L166.2 323.2M324 184.2L185 323.2M342.8 184.2L203.8 323.2M361.6 184.2L222.6 323.2M380.4 184.2L241.4 323.2M399.2 184.2L260.2 323.2M418 184.2L279 323.2M436.8 184.2L297.8 323.2M455.5 184.2L316.5 323.2M474.3 184.2L335.3 323.2M493.1 184.2L354.1 323.2M511.9 184.2L372.9 323.2M530.7 184.2L391.7 323.2M549.5 184.2L410.5 323.2M568.3 184.2L429.3 323.2M587.1 184.2L448.1 323.2M605.9 184.2L466.9 323.2M624.7 184.2L485.7 323.2" stroke="#000" stroke-width="2.2" fill="none"/></g>
<path d="M 133.1 303.6 L 76.7 303.6 Q 71.3 305.8 71.6 312.2 Q 71.3 318.7 76.7 321.1 L 342.4 321.2" stroke="#000" stroke-width="3.8" fill="none" />
<path d="M 135.7 299.9 L 135.7 284.5 Q 135.7 280.2 142.5 280.2 L 188.7 283.6 L 204 278.5" stroke="#000" stroke-width="2.8000000000000003" fill="none" />
<path d="M 204 278.5 L 231.4 264.8 Q 238.2 261.4 244.2 267.4 Q 247.1 272.5 247.3 289.6 Q 247.6 296.4 254.4 296.4 L 283.5 296.4 Q 290.8 296.4 290.8 288.8 L 290.8 221.3 Q 291.2 214.8 298 213.1 L 311.7 210.7" stroke="#000" stroke-width="3.8" fill="none" />
<path d="M 311.7 210.7 Q 314.4 211 315.4 214.4 A 3.4 3.6 0 0 0 322.3 213.2 A 5.1 5.1 0 0 1 332.5 211.5 A 3.4 3.6 0 0 0 339.4 210.3 A 5.1 5.1 0 0 1 349.6 208.4 A 3.4 3.6 0 0 0 356.5 207.3 A 5.1 5.1 0 0 1 366.7 205.5 A 3.4 3.6 0 0 0 373.5 204.3 A 5.1 5.1 0 0 1 383.8 202.5 A 3.4 3.6 0 0 0 390.6 201.3 A 5.1 5.1 0 0 1 400.9 199.6 A 3.4 3.6 0 0 0 407.7 198.4 Q 407.7 195.6 411.7 192.9" stroke="#000" stroke-width="3.8" fill="none" />
<path d="M 411.7 192.9 L 431.3 187.4 Q 439 186.2 440.2 193.9 L 439 205 Q 437.3 211 429.9 213.1 L 441.9 289.6 L 442.9 292.2 L 462.1 292.2 Q 470.6 293 471.8 302.4 L 471.5 308.7 Q 468.9 320.4 456.9 321.2 L 414.2 321.2 L 407.4 287.9 Q 402.3 258.9 374.9 258 Q 368.1 258 364.3 263.6 L 354.4 293 L 342.4 321.2" stroke="#000" stroke-width="3.8" fill="none" />
<path d="M 154.5 321.2 L 190.4 311.8 L 228 321.2" stroke="#000" stroke-width="2.8000000000000003" fill="none" />
<path d="M 354.4 293 L 347.6 321.2" stroke="#000" stroke-width="2.2" fill="none" />
<path d="M 247.3 278 L 255.3 278 L 255.3 289.6 L 272.4 289.6" stroke="#000" stroke-width="3.8" fill="none" />
<path d="M 272.4 252.9 L 290.8 252.9 L 290.8 289.6 L 272.4 289.6 Z" fill="#fefefe"/><g clip-path="url(#c21)" ><path d="M269.7 250.9L229 291.6M280.3 250.9L239.6 291.6M290.9 250.9L250.2 291.6M301.5 250.9L260.8 291.6M312.1 250.9L271.4 291.6M322.7 250.9L282 291.6M333.3 250.9L292.6 291.6M343.9 250.9L303.2 291.6M220.7 250.9L261.4 291.6M231.3 250.9L272 291.6M241.9 250.9L282.6 291.6M252.5 250.9L293.2 291.6M263.1 250.9L303.8 291.6M273.7 250.9L314.4 291.6M284.3 250.9L325 291.6M294.8 250.9L335.5 291.6" stroke="#000" stroke-width="2.2" fill="none"/></g>
<path d="M 290.8 252.9 L 272.4 252.9 L 272.4 289.6" stroke="#000" stroke-width="3.8" fill="none" />
<path d="M 410.8 303.3 L 355.3 303.3 L 355.3 341.7 L 319.4 341.7 L 319.4 322.1" stroke="#000" stroke-width="3.8" fill="none" />
<path d="M 451.8 322.1 L 451.8 393.8 L 480 393.8" stroke="#000" stroke-width="3.8" fill="none" />
<path d="M 335.6 337.1 L 274.4 325.8 L 164.7 349.4 Q 152.8 353.7 152.8 364.8 Q 153.6 377.6 166.4 378.8 L 499.7 378.8" stroke="#000" stroke-width="7.2" fill="none" stroke-linejoin="miter"/>
<path d="M 335.6 337.1 L 274.4 325.8 L 164.7 349.4 Q 152.8 353.7 152.8 364.8 Q 153.6 377.6 166.4 378.8 L 499.7 378.8" stroke="#fefefe" stroke-width="1.6" fill="none" stroke-linejoin="miter"/>
<path d="M 314 381.5 L 354.5 397" stroke="#000" stroke-width="6.4" fill="none" />
<path d="M 314 381.5 L 354.5 397" stroke="#fefefe" stroke-width="1.5" fill="none" />
<g clip-path="url(#c22)" ><path d="M342.8 535.8L379.3 572.3M371.5 535.8L408 572.3M400.2 535.8L436.7 572.3M428.9 535.8L465.4 572.3M457.6 535.8L494.1 572.3M486.4 535.8L522.9 572.3M515.1 535.8L551.6 572.3M543.8 535.8L580.3 572.3M572.5 535.8L609 572.3M601.2 535.8L637.7 572.3M629.9 535.8L666.4 572.3M658.6 535.8L695.1 572.3" stroke="#000" stroke-width="2.1999999999999997" fill="none"/></g>
<path d="M 440 537.8 L 634.8 537.8 M 440 570.3 L 604.9 570.3" stroke="#000" stroke-width="3.4" fill="none" />
<path d="M 452 531.8 L 641.6 531.8 M 452 525 L 587 525" stroke="#000" stroke-width="3.4" fill="none" />
<path d="M 604.9 573.7 L 604.9 567.7 Q 619.4 531.8 653.6 523.3 L 665.6 521.6 L 730.5 520.7 L 759.5 513 L 759.5 573.7 Z" fill="#fefefe"/><g clip-path="url(#c23)" ><path d="M602.9 507.9L761.5 507.9M602.9 515.6L761.5 515.6M602.9 523.3L761.5 523.3M602.9 531L761.5 531M602.9 538.7L761.5 538.7M602.9 546.3L761.5 546.3M602.9 554L761.5 554M602.9 561.7L761.5 561.7M602.9 569.4L761.5 569.4M602.9 577.1L761.5 577.1" stroke="#000" stroke-width="3.0" fill="none"/></g>
<g clip-path="url(#c24)" ><path d="M602.9 542.4L626.5 542.4M602.9 550.1L626.5 550.1M602.9 557.8L626.5 557.8M602.9 565.5L626.5 565.5M602.9 573.2L626.5 573.2M602.9 580.9L626.5 580.9" stroke="#000" stroke-width="1.9" fill="none"/></g>
<path d="M 604.9 546.3 L 624.5 546.3 M 604.9 546.3 L 604.9 574.5" stroke="#000" stroke-width="3.4" fill="none" />
<path d="M 604.9 573.7 Q 619.4 531.8 653.6 523.3 L 665.6 521.6 L 730.5 520.7 L 759.5 513 Q 815.9 490.8 841.6 480.6 Q 867.2 470.3 880 461.8" stroke="#000" stroke-width="2.5" fill="none" />
<path d="M 689.1 521.6 L 694.9 521.6 L 694.9 573.7 L 689.1 573.7 Z" fill="#fefefe" stroke="none" />
<path d="M 687.8 520.7 L 687.8 573.7 M 696.3 520.7 L 696.3 573.7" stroke="#000" stroke-width="3.4" fill="none" />
<path d="M 759.5 511.3 L 759.5 573.7" stroke="#000" stroke-width="3.4" fill="none" />
<path d="M 604.9 574.2 L 827.9 573.7 L 880 562.6" stroke="#000" stroke-width="3.4" fill="none" />
<g clip-path="url(#c25)" ><path d="M443.4 423L339.4 527M462.7 423L358.7 527M482 423L378 527M501.3 423L397.3 527M520.6 423L416.6 527M539.9 423L435.9 527M559.2 423L455.2 527M578.6 423L474.6 527M597.9 423L493.9 527M617.2 423L513.2 527M636.5 423L532.5 527M655.8 423L551.8 527M675.1 423L571.1 527M694.4 423L590.4 527M713.7 423L609.7 527M733 423L629 527M752.3 423L648.3 527M771.6 423L667.6 527M791 423L687 527M810.3 423L706.3 527M829.6 423L725.6 527M848.9 423L744.9 527M868.2 423L764.2 527M887.5 423L783.5 527M906.8 423L802.8 527M926.1 423L822.1 527M945.4 423L841.4 527M964.7 423L860.7 527M984 423L880 527M332.7 423L436.7 527M352 423L456 527M371.3 423L475.3 527M390.6 423L494.6 527M409.9 423L513.9 527M429.3 423L533.3 527M448.6 423L552.6 527M467.9 423L571.9 527M487.2 423L591.2 527M506.5 423L610.5 527M525.8 423L629.8 527M545.1 423L649.1 527M564.4 423L668.4 527M583.7 423L687.7 527M603 423L707 527M622.3 423L726.3 527M641.7 423L745.7 527M661 423L765 527M680.3 423L784.3 527M699.6 423L803.6 527M718.9 423L822.9 527M738.2 423L842.2 527M757.5 423L861.5 527M776.8 423L880.8 527M796.1 423L900.1 527M815.4 423L919.4 527M834.7 423L938.7 527M854 423L958 527M873.4 423L977.4 527" stroke="#000" stroke-width="2.1" fill="none"/></g>
<path d="M 452 507.9 L 545.9 507.9 L 565.6 485.7 L 757.8 478" stroke="#000" stroke-width="3.4" fill="none" />
<path d="M 867.2 425 L 867.2 461.8 Q 841.6 475.4 815.9 485.7 L 759.5 510.5 L 728.8 509.6 L 728.8 501.9 L 587 507.9 L 587 525" stroke="#000" stroke-width="3.4" fill="none" />
<path d="M 547.7 425 L 867.2 425" stroke="#000" stroke-width="3.4" fill="none" />
<path d="M 547.7 425 L 547.7 484 L 757.8 478 L 757.8 425" stroke="#000" stroke-width="3.4" fill="none" />
<path d="M 547.7 484 L 557.9 472.9 L 756.1 464.3" stroke="#000" stroke-width="2.8" fill="none" />
<path d="M 557.9 425 L 557.9 472.9" stroke="#000" stroke-width="3.4" fill="none" />
<path d="M 757.8 454.1 L 774.1 460.1 L 774.1 425" stroke="#000" stroke-width="3.4" fill="none" />
<path d="M 775.8 451.5 L 791.1 456.6 L 791.1 425" stroke="#000" stroke-width="3.4" fill="none" />
<path d="M 792.9 448.1 L 807.4 454.1 L 807.4 425" stroke="#000" stroke-width="3.4" fill="none" />
<path d="M 809.1 445.5 L 824.5 451.5 L 824.5 425" stroke="#000" stroke-width="3.4" fill="none" />
<path d="M 826.2 443.8 L 841.6 448.1 L 841.6 425" stroke="#000" stroke-width="3.4" fill="none" />
<path d="M 843.3 441.3 L 858.6 446.4 L 858.6 425" stroke="#000" stroke-width="3.4" fill="none" />
<path d="M 775.8 451.5 L 775.8 425 M 792.9 448.1 L 792.9 425 M 809.1 445.5 L 809.1 425 M 826.2 443.8 L 826.2 425 M 843.3 441.3 L 843.3 425" stroke="#000" stroke-width="1.9" fill="none" />
<path d="M 858.6 439.6 L 867.2 439.6" stroke="#000" stroke-width="3.4" fill="none" />
<path d="M 451.1 428.4 L 451.1 557.5" stroke="#000" stroke-width="3.4" fill="none" />
<path d="M 451.1 428.4 L 511.8 428.4 M 451.1 436.1 L 545.1 436.1 L 545.1 450.7 Q 516.9 451.5 494.7 460.9 L 451.1 460.9" stroke="#000" stroke-width="3.4" fill="none" />
<path d="M 539.1 390 L 539.1 435.3" stroke="#000" stroke-width="3.4" fill="none" />
<path d="M 445.1 463.5 L 545.1 463.5 L 545.1 470.3 L 477.6 470.3 Q 473.3 477.1 477.6 485.7 L 496.4 488.3 L 486.1 495.9 L 443.4 495.9 L 443.4 487.4 L 446.8 478.9 L 445.1 470.3 Z" fill="#fefefe"/><g clip-path="url(#c26)" ><path d="M396.7 461.5L433.1 497.9M406.2 461.5L442.6 497.9M415.8 461.5L452.2 497.9M425.4 461.5L461.8 497.9M434.9 461.5L471.3 497.9M444.5 461.5L480.9 497.9M454.1 461.5L490.5 497.9M463.7 461.5L500.1 497.9M473.2 461.5L509.6 497.9M482.8 461.5L519.2 497.9M492.4 461.5L528.8 497.9M501.9 461.5L538.3 497.9M511.5 461.5L547.9 497.9M521.1 461.5L557.5 497.9M530.6 461.5L567 497.9M540.2 461.5L576.6 497.9M549.8 461.5L586.2 497.9" stroke="#000" stroke-width="1.9" fill="none"/></g>
<path d="M 440 463.1 L 545.1 463.1 L 545.1 478.9" stroke="#000" stroke-width="3.4" fill="none" />
<path d="M 545.1 470.3 L 477.6 470.3 Q 473.3 477.1 477.6 485.7 L 515.2 486" stroke="#000" stroke-width="3.4" fill="none" />
<path d="M 440 495.9 L 486.1 495.9 Q 516.9 480.6 545.1 478.9" stroke="#000" stroke-width="3.4" fill="none" />
<path d="M 445.1 463.5 L 446.8 478.9 L 443.4 487.4 L 443.4 495.9" stroke="#000" stroke-width="1.9" fill="none" />
<g clip-path="url(#c27)" ><path d="M371.7 250.2L415 293.5M400.1 250.2L443.4 293.5M428.4 250.2L471.7 293.5M456.8 250.2L500.1 293.5M485.1 250.2L528.4 293.5M513.5 250.2L556.8 293.5M541.9 250.2L585.2 293.5M570.2 250.2L613.5 293.5M598.6 250.2L641.9 293.5M627 250.2L670.3 293.5M655.3 250.2L698.6 293.5M683.7 250.2L727 293.5M712.1 250.2L755.4 293.5M740.4 250.2L783.7 293.5M768.8 250.2L812.1 293.5" stroke="#000" stroke-width="2.1999999999999997" fill="none"/></g>
<path d="M 442.6 291.5 L 442.6 262.5 L 452.8 252.2 L 604 252.2" stroke="#000" stroke-width="3.3" fill="none" />
<path d="M 442.6 291.5 L 759.5 291.5" stroke="#000" stroke-width="3.3" fill="none" />
<path d="M 604 276.1 L 759.5 276.1" stroke="#000" stroke-width="3.3" fill="none" />
<path d="M 638.2 276.1 L 643.3 270.2 L 756.1 270.2" stroke="#000" stroke-width="2.3" fill="none" />
<path d="M 759.5 277 L 759.5 313.7" stroke="#000" stroke-width="3.3" fill="none" />
<path d="M 774.9 277 L 774.9 313.7" stroke="#000" stroke-width="3.3" fill="none" />
<g clip-path="url(#c28)" ><path d="M599.2 245.9L551.6 293.5M636.8 245.9L589.2 293.5M674.4 245.9L626.8 293.5M712 245.9L664.4 293.5M749.6 245.9L702 293.5M787.2 245.9L739.6 293.5M824.8 245.9L777.2 293.5M862.4 245.9L814.8 293.5M900 245.9L852.4 293.5M937.6 245.9L890 293.5" stroke="#000" stroke-width="2.9" fill="none"/></g>
<path d="M 880 262.5 L 797.1 247.9 L 604 247.9 L 604 276.1" stroke="#000" stroke-width="3.3" fill="none" />
<path d="M 604 267.6 L 807.4 267.6 L 807.4 277" stroke="#000" stroke-width="3.3" fill="none" />
<path d="M 756.1 276.5 L 807.4 276.5" stroke="#000" stroke-width="4.3" fill="none" />
<path d="M 807.4 280.4 L 851.8 280.4 L 851.8 291.5" stroke="#000" stroke-width="3.3" fill="none" />
<path d="M 807.4 291.9 L 894.5 291.9" stroke="#000" stroke-width="4.3" fill="none" />
<path d="M 610.9 230 L 592.1 270.2" stroke="#000" stroke-width="1.9" fill="none" />
<path d="M 776.6 277 L 807.4 277 L 807.4 293.2 L 901 293.2 L 901 334.2 L 812.5 334.2 L 776.6 315.4 Z" fill="#fefefe"/><g clip-path="url(#c29)" ><path d="M772.3 275L711.1 336.2M780.1 275L718.9 336.2M788 275L726.8 336.2M795.9 275L734.7 336.2M803.7 275L742.5 336.2M811.6 275L750.4 336.2M819.5 275L758.3 336.2M827.3 275L766.1 336.2M835.2 275L774 336.2M843 275L781.8 336.2M850.9 275L789.7 336.2M858.8 275L797.6 336.2M866.6 275L805.4 336.2M874.5 275L813.3 336.2M882.3 275L821.1 336.2M890.2 275L829 336.2M898.1 275L836.9 336.2M905.9 275L844.7 336.2M913.8 275L852.6 336.2M921.6 275L860.4 336.2M929.5 275L868.3 336.2M937.4 275L876.2 336.2M945.2 275L884 336.2M953.1 275L891.9 336.2M960.9 275L899.7 336.2M968.8 275L907.6 336.2M712.9 275L774.1 336.2M720.8 275L782 336.2M728.7 275L789.9 336.2M736.5 275L797.7 336.2M744.4 275L805.6 336.2M752.2 275L813.4 336.2M760.1 275L821.3 336.2M768 275L829.2 336.2M775.8 275L837 336.2M783.7 275L844.9 336.2M791.5 275L852.7 336.2M799.4 275L860.6 336.2M807.3 275L868.5 336.2M815.1 275L876.3 336.2M823 275L884.2 336.2M830.8 275L892 336.2M838.7 275L899.9 336.2M846.6 275L907.8 336.2M854.4 275L915.6 336.2M862.3 275L923.5 336.2M870.1 275L931.3 336.2M878 275L939.2 336.2M885.9 275L947.1 336.2M893.7 275L954.9 336.2M901.6 275L962.8 336.2M909.5 275L970.7 336.2" stroke="#000" stroke-width="2.7" fill="none"/></g>
<path d="M 776.6 315.4 L 812.5 334.2 L 901 334.2" stroke="#000" stroke-width="3.3" fill="none" />
<g clip-path="url(#c30)" ><path d="M536.7 296.3L432.7 400.3M556 296.3L452 400.3M575.3 296.3L471.3 400.3M594.6 296.3L490.6 400.3M613.9 296.3L509.9 400.3M633.3 296.3L529.3 400.3M652.6 296.3L548.6 400.3M671.9 296.3L567.9 400.3M691.2 296.3L587.2 400.3M710.5 296.3L606.5 400.3M729.8 296.3L625.8 400.3M749.1 296.3L645.1 400.3M768.4 296.3L664.4 400.3M787.7 296.3L683.7 400.3M807 296.3L703 400.3M826.3 296.3L722.3 400.3M845.7 296.3L741.7 400.3M865 296.3L761 400.3M884.3 296.3L780.3 400.3M903.6 296.3L799.6 400.3M922.9 296.3L818.9 400.3M942.2 296.3L838.2 400.3M961.5 296.3L857.5 400.3M980.8 296.3L876.8 400.3M431.3 296.3L535.3 400.3M450.6 296.3L554.6 400.3M469.9 296.3L573.9 400.3M489.2 296.3L593.2 400.3M508.5 296.3L612.5 400.3M527.8 296.3L631.8 400.3M547.1 296.3L651.1 400.3M566.4 296.3L670.4 400.3M585.8 296.3L689.8 400.3M605.1 296.3L709.1 400.3M624.4 296.3L728.4 400.3M643.7 296.3L747.7 400.3M663 296.3L767 400.3M682.3 296.3L786.3 400.3M701.6 296.3L805.6 400.3M720.9 296.3L824.9 400.3M740.2 296.3L844.2 400.3M759.5 296.3L863.5 400.3M778.8 296.3L882.8 400.3M798.2 296.3L902.2 400.3M817.5 296.3L921.5 400.3M836.8 296.3L940.8 400.3M856.1 296.3L960.1 400.3M875.4 296.3L979.4 400.3" stroke="#000" stroke-width="2.1" fill="none"/></g>
<path d="M 545.9 298.3 L 587 298.3 L 587 313.7 L 728.8 320.6 L 728.8 313.7 L 759.5 313.7 L 773.2 317.1 L 867.2 359.9 L 867.2 398.3" stroke="#000" stroke-width="3.3" fill="none" />
<path d="M 545.9 298.3 L 545.9 315.4 L 565.6 336.8 L 757.8 344.5" stroke="#000" stroke-width="3.3" fill="none" />
<path d="M 471.6 298.3 L 545.9 298.3 M 471.6 314.6 L 545.9 314.6" stroke="#000" stroke-width="3.3" fill="none" />
<path d="M 547.7 398.3 L 547.7 339.4 L 757.8 346.2 L 757.8 398.3" stroke="#000" stroke-width="3.3" fill="none" />
<path d="M 547.7 339.4 L 557.9 349.6 L 756.1 358.2" stroke="#000" stroke-width="2.6999999999999997" fill="none" />
<path d="M 557.9 349.6 L 557.9 398.3" stroke="#000" stroke-width="3.3" fill="none" />
<path d="M 547.7 398.3 L 867.2 398.3" stroke="#000" stroke-width="3.3" fill="none" />
<path d="M 757.8 366.7 L 774.1 361.6 L 774.1 398.3" stroke="#000" stroke-width="3.3" fill="none" />
<path d="M 775.8 371 L 791.1 365.8 L 791.1 398.3" stroke="#000" stroke-width="3.3" fill="none" />
<path d="M 792.9 372.7 L 807.4 367.6 L 807.4 398.3" stroke="#000" stroke-width="3.3" fill="none" />
<path d="M 809.1 375.2 L 824.5 369.3 L 824.5 398.3" stroke="#000" stroke-width="3.3" fill="none" />
<path d="M 826.2 377 L 841.6 372.7 L 841.6 398.3" stroke="#000" stroke-width="3.3" fill="none" />
<path d="M 843.3 380.4 L 858.6 375.2 L 858.6 398.3" stroke="#000" stroke-width="3.3" fill="none" />
<path d="M 775.8 371 L 775.8 398.3 M 792.9 372.7 L 792.9 398.3 M 809.1 375.2 L 809.1 398.3 M 826.2 377 L 826.2 398.3 M 843.3 380.4 L 843.3 398.3" stroke="#000" stroke-width="1.9" fill="none" />
<path d="M 858.6 383.8 L 867.2 383.8" stroke="#000" stroke-width="3.3" fill="none" />
<path d="M 560.5 398.3 L 560.5 423.9 M 776.6 398.3 L 776.6 423.9" stroke="#000" stroke-width="3.3" fill="none" />
<path d="M 451.1 322.3 L 451.1 394 L 513.5 394 L 513.5 435" stroke="#000" stroke-width="3.3" fill="none" />
<path d="M 440 381.2 L 539.1 381.2 L 539.1 435" stroke="#000" stroke-width="3.3" fill="none" />
<path d="M 518.6 375.6 L 534 375.6 L 534 381.2" stroke="#000" stroke-width="2.6999999999999997" fill="none" />
<path d="M 498.1 371.5 L 518.6 371.5 L 518.6 380.4 L 498.1 380.4 Z" fill="#fefefe"/><g clip-path="url(#c31)" ><path d="M481.8 369.5L494.7 382.4M485.5 369.5L498.4 382.4M489.3 369.5L502.2 382.4M493 369.5L505.9 382.4M496.8 369.5L509.7 382.4M500.6 369.5L513.5 382.4M504.3 369.5L517.2 382.4M508.1 369.5L521 382.4M511.8 369.5L524.7 382.4M515.6 369.5L528.5 382.4M519.4 369.5L532.3 382.4M523.1 369.5L536 382.4" stroke="#000" stroke-width="1.9" fill="none"/></g>
<path d="M 498.1 380.4 L 498.1 371.5 L 518.6 371.5 L 518.6 380.4" stroke="#000" stroke-width="2.6999999999999997" fill="none" />
<path d="M 451.1 428.2 L 511.8 428.2" stroke="#000" stroke-width="3.3" fill="none" />
<g clip-path="url(#c32)" ><path d="M847.8 260.5L785.7 322.6M885.4 260.5L823.3 322.6M923 260.5L860.9 322.6M960.6 260.5L898.5 322.6M998.2 260.5L936.1 322.6M1035.8 260.5L973.7 322.6M1073.4 260.5L1011.3 322.6M1111 260.5L1048.9 322.6M1148.6 260.5L1086.5 322.6M1186.1 260.5L1124 322.6" stroke="#000" stroke-width="2.8000000000000003" fill="none"/></g>
<path d="M 880 262.5 L 1087.3 300.1 L 1087.3 320.6" stroke="#000" stroke-width="3.2" fill="none" />
<path d="M 880 291.5 L 894.2 291.5 Q 979.6 306.9 1048 319.7 L 1087.3 320.9" stroke="#000" stroke-width="3.2" fill="none" />
<path d="M 908.4 309.5 L 919 435" stroke="#000" stroke-width="3.2" fill="none" />
<path d="M 924.6 313.7 L 935.2 429.1" stroke="#000" stroke-width="3.2" fill="none" />
<path d="M 941.7 316.3 L 951.4 423.9" stroke="#000" stroke-width="3.2" fill="none" />
<path d="M 957.9 319.7 L 967.7 419.3" stroke="#000" stroke-width="3.2" fill="none" />
<path d="M 975 322.3 L 983.9 416.3" stroke="#000" stroke-width="3.2" fill="none" />
<path d="M 991.2 325.7 L 1000.1 414.2" stroke="#000" stroke-width="3.2" fill="none" />
<path d="M 1007.5 328.3 L 1016.3 412.8" stroke="#000" stroke-width="3.2" fill="none" />
<path d="M 1024.6 331.7 L 1032.6 411.8" stroke="#000" stroke-width="3.2" fill="none" />
<path d="M 1040.8 332.5 L 1049.7 411.1" stroke="#000" stroke-width="3.2" fill="none" />
<path d="M 1057.9 333.4 L 1065.9 410.8" stroke="#000" stroke-width="3.2" fill="none" />
<path d="M 1074.1 333.9 L 1083 410.4" stroke="#000" stroke-width="3.2" fill="none" />
<path d="M 901 330.8 L 901 447" stroke="#000" stroke-width="3.2" fill="none" />
<path d="M 839.5 485.7 Q 873.7 466.9 901 446.4 Q 931.8 427.6 962.5 419 Q 989.9 412.2 1013.8 412.2 L 1092.4 410.5" stroke="#000" stroke-width="2.6" fill="none" />
<path d="M 1092.4 409.7 L 1092.4 522.4 L 858.3 568.1" stroke="#000" stroke-width="3.5" fill="none" />
<path d="M 1090.7 335.1 L 1107.3 475.4" stroke="#000" stroke-width="3.6" fill="none" />
<path d="M 1107.4 335.1 L 1124.2 475.4" stroke="#000" stroke-width="3.6" fill="none" />
<path d="M 1124.2 335.1 L 1141.1 475.4" stroke="#000" stroke-width="3.6" fill="none" />
<path d="M 1140.9 335.1 L 1158 475.4" stroke="#000" stroke-width="3.6" fill="none" />
<path d="M 1157.7 335.1 L 1174.9 475.4" stroke="#000" stroke-width="3.6" fill="none" />
<path d="M 1174.4 335.1 L 1191.8 475.4" stroke="#000" stroke-width="3.6" fill="none" />
<path d="M 1191.2 335.1 L 1208.8 475.4" stroke="#000" stroke-width="3.6" fill="none" />
<path d="M 1207.9 335.1 L 1225.7 475.4" stroke="#000" stroke-width="3.6" fill="none" />
<path d="M 1090.2 478.9 A 8.2 8.2 0 1 0 1106.6 478.9 A 8.2 8.2 0 1 0 1090.2 478.9 Z" fill="#fefefe" stroke="none" />
<g clip-path="url(#c33)" ><path d="M1071.3 460.5L1034.5 497.3M1077.8 460.5L1041 497.3M1084.3 460.5L1047.5 497.3M1090.8 460.5L1054 497.3M1097.2 460.5L1060.4 497.3M1103.7 460.5L1066.9 497.3M1110.2 460.5L1073.4 497.3M1116.7 460.5L1079.9 497.3M1123.2 460.5L1086.4 497.3M1129.7 460.5L1092.9 497.3M1136.2 460.5L1099.4 497.3M1142.7 460.5L1105.9 497.3M1149.2 460.5L1112.4 497.3M1155.7 460.5L1118.9 497.3M1162.2 460.5L1125.4 497.3" stroke="#000" stroke-width="1.8" fill="none"/></g>
<path d="M 1090.2 478.9 A 8.2 8.2 0 1 0 1106.6 478.9 A 8.2 8.2 0 1 0 1090.2 478.9 Z" stroke="#000" stroke-width="2.8000000000000003" fill="none" />
<path d="M 1107.1 478.9 A 8.2 8.2 0 1 0 1123.5 478.9 A 8.2 8.2 0 1 0 1107.1 478.9 Z" fill="#fefefe" stroke="none" />
<g clip-path="url(#c34)" ><path d="M1088.2 460.5L1051.4 497.3M1094.7 460.5L1057.9 497.3M1101.2 460.5L1064.4 497.3M1107.7 460.5L1070.9 497.3M1114.2 460.5L1077.4 497.3M1120.7 460.5L1083.9 497.3M1127.1 460.5L1090.3 497.3M1133.6 460.5L1096.8 497.3M1140.1 460.5L1103.3 497.3M1146.6 460.5L1109.8 497.3M1153.1 460.5L1116.3 497.3M1159.6 460.5L1122.8 497.3M1166.1 460.5L1129.3 497.3M1172.6 460.5L1135.8 497.3M1179.1 460.5L1142.3 497.3" stroke="#000" stroke-width="1.8" fill="none"/></g>
<path d="M 1107.1 478.9 A 8.2 8.2 0 1 0 1123.5 478.9 A 8.2 8.2 0 1 0 1107.1 478.9 Z" stroke="#000" stroke-width="2.8000000000000003" fill="none" />
<path d="M 1124 478.9 A 8.2 8.2 0 1 0 1140.4 478.9 A 8.2 8.2 0 1 0 1124 478.9 Z" fill="#fefefe" stroke="none" />
<g clip-path="url(#c35)" ><path d="M1105.1 460.5L1068.3 497.3M1111.6 460.5L1074.8 497.3M1118.1 460.5L1081.3 497.3M1124.6 460.5L1087.8 497.3M1131.1 460.5L1094.3 497.3M1137.6 460.5L1100.8 497.3M1144.1 460.5L1107.3 497.3M1150.6 460.5L1113.8 497.3M1157 460.5L1120.2 497.3M1163.5 460.5L1126.7 497.3M1170 460.5L1133.2 497.3M1176.5 460.5L1139.7 497.3M1183 460.5L1146.2 497.3M1189.5 460.5L1152.7 497.3M1196 460.5L1159.2 497.3" stroke="#000" stroke-width="1.8" fill="none"/></g>
<path d="M 1124 478.9 A 8.2 8.2 0 1 0 1140.4 478.9 A 8.2 8.2 0 1 0 1124 478.9 Z" stroke="#000" stroke-width="2.8000000000000003" fill="none" />
<path d="M 1140.9 478.9 A 8.2 8.2 0 1 0 1157.3 478.9 A 8.2 8.2 0 1 0 1140.9 478.9 Z" fill="#fefefe" stroke="none" />
<g clip-path="url(#c36)" ><path d="M1122 460.5L1085.2 497.3M1128.5 460.5L1091.7 497.3M1135 460.5L1098.2 497.3M1141.5 460.5L1104.7 497.3M1148 460.5L1111.2 497.3M1154.5 460.5L1117.7 497.3M1161 460.5L1124.2 497.3M1167.5 460.5L1130.7 497.3M1174 460.5L1137.2 497.3M1180.5 460.5L1143.7 497.3M1187 460.5L1150.2 497.3M1193.4 460.5L1156.6 497.3M1199.9 460.5L1163.1 497.3M1206.4 460.5L1169.6 497.3M1212.9 460.5L1176.1 497.3" stroke="#000" stroke-width="1.8" fill="none"/></g>
<path d="M 1140.9 478.9 A 8.2 8.2 0 1 0 1157.3 478.9 A 8.2 8.2 0 1 0 1140.9 478.9 Z" stroke="#000" stroke-width="2.8000000000000003" fill="none" />
<path d="M 1157.8 478.9 A 8.2 8.2 0 1 0 1174.2 478.9 A 8.2 8.2 0 1 0 1157.8 478.9 Z" fill="#fefefe" stroke="none" />
<g clip-path="url(#c37)" ><path d="M1138.9 460.5L1102.1 497.3M1145.4 460.5L1108.6 497.3M1151.9 460.5L1115.1 497.3M1158.4 460.5L1121.6 497.3M1164.9 460.5L1128.1 497.3M1171.4 460.5L1134.6 497.3M1177.9 460.5L1141.1 497.3M1184.4 460.5L1147.6 497.3M1190.9 460.5L1154.1 497.3M1197.4 460.5L1160.6 497.3M1203.9 460.5L1167.1 497.3M1210.4 460.5L1173.6 497.3M1216.9 460.5L1180.1 497.3M1223.3 460.5L1186.5 497.3M1229.8 460.5L1193 497.3" stroke="#000" stroke-width="1.8" fill="none"/></g>
<path d="M 1157.8 478.9 A 8.2 8.2 0 1 0 1174.2 478.9 A 8.2 8.2 0 1 0 1157.8 478.9 Z" stroke="#000" stroke-width="2.8000000000000003" fill="none" />
<path d="M 1174.7 478.9 A 8.2 8.2 0 1 0 1191.2 478.9 A 8.2 8.2 0 1 0 1174.7 478.9 Z" fill="#fefefe" stroke="none" />
<g clip-path="url(#c38)" ><path d="M1155.9 460.5L1119.1 497.3M1162.3 460.5L1125.5 497.3M1168.8 460.5L1132 497.3M1175.3 460.5L1138.5 497.3M1181.8 460.5L1145 497.3M1188.3 460.5L1151.5 497.3M1194.8 460.5L1158 497.3M1201.3 460.5L1164.5 497.3M1207.8 460.5L1171 497.3M1214.3 460.5L1177.5 497.3M1220.8 460.5L1184 497.3M1227.3 460.5L1190.5 497.3M1233.8 460.5L1197 497.3M1240.3 460.5L1203.5 497.3M1246.8 460.5L1210 497.3" stroke="#000" stroke-width="1.8" fill="none"/></g>
<path d="M 1174.7 478.9 A 8.2 8.2 0 1 0 1191.2 478.9 A 8.2 8.2 0 1 0 1174.7 478.9 Z" stroke="#000" stroke-width="2.8000000000000003" fill="none" />
<path d="M 1191.7 478.9 A 8.2 8.2 0 1 0 1208.1 478.9 A 8.2 8.2 0 1 0 1191.7 478.9 Z" fill="#fefefe" stroke="none" />
<g clip-path="url(#c39)" ><path d="M1172.8 460.5L1136 497.3M1179.3 460.5L1142.5 497.3M1185.8 460.5L1149 497.3M1192.2 460.5L1155.4 497.3M1198.7 460.5L1161.9 497.3M1205.2 460.5L1168.4 497.3M1211.7 460.5L1174.9 497.3M1218.2 460.5L1181.4 497.3M1224.7 460.5L1187.9 497.3M1231.2 460.5L1194.4 497.3M1237.7 460.5L1200.9 497.3M1244.2 460.5L1207.4 497.3M1250.7 460.5L1213.9 497.3M1257.2 460.5L1220.4 497.3M1263.7 460.5L1226.9 497.3" stroke="#000" stroke-width="1.8" fill="none"/></g>
<path d="M 1191.7 478.9 A 8.2 8.2 0 1 0 1208.1 478.9 A 8.2 8.2 0 1 0 1191.7 478.9 Z" stroke="#000" stroke-width="2.8000000000000003" fill="none" />
<path d="M 1208.6 478.9 A 8.2 8.2 0 1 0 1225 478.9 A 8.2 8.2 0 1 0 1208.6 478.9 Z" fill="#fefefe" stroke="none" />
<g clip-path="url(#c40)" ><path d="M1189.7 460.5L1152.9 497.3M1196.2 460.5L1159.4 497.3M1202.7 460.5L1165.9 497.3M1209.2 460.5L1172.4 497.3M1215.7 460.5L1178.9 497.3M1222.2 460.5L1185.4 497.3M1228.6 460.5L1191.8 497.3M1235.1 460.5L1198.3 497.3M1241.6 460.5L1204.8 497.3M1248.1 460.5L1211.3 497.3M1254.6 460.5L1217.8 497.3M1261.1 460.5L1224.3 497.3M1267.6 460.5L1230.8 497.3M1274.1 460.5L1237.3 497.3M1280.6 460.5L1243.8 497.3" stroke="#000" stroke-width="1.8" fill="none"/></g>
<path d="M 1208.6 478.9 A 8.2 8.2 0 1 0 1225 478.9 A 8.2 8.2 0 1 0 1208.6 478.9 Z" stroke="#000" stroke-width="2.8000000000000003" fill="none" />
<path d="M 807.9 301.8 A 7.7 7.7 0 1 0 823.3 301.8 A 7.7 7.7 0 1 0 807.9 301.8 Z" fill="#fefefe" stroke="none" />
<g clip-path="url(#c41)" ><path d="M787.5 284.4L752.7 319.2M794 284.4L759.2 319.2M800.5 284.4L765.7 319.2M807 284.4L772.2 319.2M813.5 284.4L778.7 319.2M820 284.4L785.2 319.2M826.4 284.4L791.6 319.2M832.9 284.4L798.1 319.2M839.4 284.4L804.6 319.2M845.9 284.4L811.1 319.2M852.4 284.4L817.6 319.2M858.9 284.4L824.1 319.2M865.4 284.4L830.6 319.2M871.9 284.4L837.1 319.2M878.4 284.4L843.6 319.2" stroke="#000" stroke-width="1.8" fill="none"/></g>
<path d="M 807.9 301.8 A 7.7 7.7 0 1 0 823.3 301.8 A 7.7 7.7 0 1 0 807.9 301.8 Z" stroke="#000" stroke-width="2.8000000000000003" fill="none" />
<path d="M 825 301.8 A 7.7 7.7 0 1 0 840.3 301.8 A 7.7 7.7 0 1 0 825 301.8 Z" fill="#fefefe" stroke="none" />
<g clip-path="url(#c42)" ><path d="M804.6 284.4L769.8 319.2M811.1 284.4L776.3 319.2M817.6 284.4L782.8 319.2M824.1 284.4L789.3 319.2M830.5 284.4L795.7 319.2M837 284.4L802.2 319.2M843.5 284.4L808.7 319.2M850 284.4L815.2 319.2M856.5 284.4L821.7 319.2M863 284.4L828.2 319.2M869.5 284.4L834.7 319.2M876 284.4L841.2 319.2M882.5 284.4L847.7 319.2M889 284.4L854.2 319.2M895.5 284.4L860.7 319.2" stroke="#000" stroke-width="1.8" fill="none"/></g>
<path d="M 825 301.8 A 7.7 7.7 0 1 0 840.3 301.8 A 7.7 7.7 0 1 0 825 301.8 Z" stroke="#000" stroke-width="2.8000000000000003" fill="none" />
<path d="M 841.7 301.8 A 7.7 7.7 0 1 0 857.1 301.8 A 7.7 7.7 0 1 0 841.7 301.8 Z" fill="#fefefe" stroke="none" />
<g clip-path="url(#c43)" ><path d="M821.3 284.4L786.5 319.2M827.8 284.4L793 319.2M834.3 284.4L799.5 319.2M840.8 284.4L806 319.2M847.3 284.4L812.5 319.2M853.8 284.4L819 319.2M860.3 284.4L825.5 319.2M866.8 284.4L832 319.2M873.3 284.4L838.5 319.2M879.8 284.4L845 319.2M886.3 284.4L851.5 319.2M892.7 284.4L857.9 319.2M899.2 284.4L864.4 319.2M905.7 284.4L870.9 319.2M912.2 284.4L877.4 319.2" stroke="#000" stroke-width="1.8" fill="none"/></g>
<path d="M 841.7 301.8 A 7.7 7.7 0 1 0 857.1 301.8 A 7.7 7.7 0 1 0 841.7 301.8 Z" stroke="#000" stroke-width="2.8000000000000003" fill="none" />
<path d="M 858.3 301.8 A 7.7 7.7 0 1 0 873.7 301.8 A 7.7 7.7 0 1 0 858.3 301.8 Z" fill="#fefefe" stroke="none" />
<g clip-path="url(#c44)" ><path d="M837.9 284.4L803.1 319.2M844.4 284.4L809.6 319.2M850.9 284.4L816.1 319.2M857.4 284.4L822.6 319.2M863.9 284.4L829.1 319.2M870.4 284.4L835.6 319.2M876.9 284.4L842.1 319.2M883.3 284.4L848.5 319.2M889.8 284.4L855 319.2M896.3 284.4L861.5 319.2M902.8 284.4L868 319.2M909.3 284.4L874.5 319.2M915.8 284.4L881 319.2M922.3 284.4L887.5 319.2M928.8 284.4L894 319.2" stroke="#000" stroke-width="1.8" fill="none"/></g>
<path d="M 858.3 301.8 A 7.7 7.7 0 1 0 873.7 301.8 A 7.7 7.7 0 1 0 858.3 301.8 Z" stroke="#000" stroke-width="2.8000000000000003" fill="none" />
<path d="M 874.5 301.8 A 7.7 7.7 0 1 0 889.9 301.8 A 7.7 7.7 0 1 0 874.5 301.8 Z" fill="#fefefe" stroke="none" />
<g clip-path="url(#c45)" ><path d="M854.1 284.4L819.3 319.2M860.6 284.4L825.8 319.2M867.1 284.4L832.3 319.2M873.6 284.4L838.8 319.2M880.1 284.4L845.3 319.2M886.6 284.4L851.8 319.2M893.1 284.4L858.3 319.2M899.6 284.4L864.8 319.2M906.1 284.4L871.3 319.2M912.6 284.4L877.8 319.2M919.1 284.4L884.3 319.2M925.6 284.4L890.8 319.2M932 284.4L897.2 319.2M938.5 284.4L903.7 319.2M945 284.4L910.2 319.2" stroke="#000" stroke-width="1.8" fill="none"/></g>
<path d="M 874.5 301.8 A 7.7 7.7 0 1 0 889.9 301.8 A 7.7 7.7 0 1 0 874.5 301.8 Z" stroke="#000" stroke-width="2.8000000000000003" fill="none" />
<path d="M 891.6 301.8 A 7.7 7.7 0 1 0 907 301.8 A 7.7 7.7 0 1 0 891.6 301.8 Z" fill="#fefefe" stroke="none" />
<g clip-path="url(#c46)" ><path d="M871.2 284.4L836.4 319.2M877.7 284.4L842.9 319.2M884.2 284.4L849.4 319.2M890.7 284.4L855.9 319.2M897.2 284.4L862.4 319.2M903.7 284.4L868.9 319.2M910.2 284.4L875.4 319.2M916.7 284.4L881.9 319.2M923.2 284.4L888.4 319.2M929.7 284.4L894.9 319.2M936.1 284.4L901.3 319.2M942.6 284.4L907.8 319.2M949.1 284.4L914.3 319.2M955.6 284.4L920.8 319.2M962.1 284.4L927.3 319.2" stroke="#000" stroke-width="1.8" fill="none"/></g>
<path d="M 891.6 301.8 A 7.7 7.7 0 1 0 907 301.8 A 7.7 7.7 0 1 0 891.6 301.8 Z" stroke="#000" stroke-width="2.8000000000000003" fill="none" />
<path d="M 907.8 306 A 7.7 7.7 0 1 0 923.2 306 A 7.7 7.7 0 1 0 907.8 306 Z" fill="#fefefe" stroke="none" />
<g clip-path="url(#c47)" ><path d="M887.5 288.6L852.7 323.4M894 288.6L859.2 323.4M900.5 288.6L865.7 323.4M907 288.6L872.2 323.4M913.5 288.6L878.7 323.4M920 288.6L885.2 323.4M926.5 288.6L891.7 323.4M933 288.6L898.2 323.4M939.5 288.6L904.7 323.4M946 288.6L911.2 323.4M952.5 288.6L917.7 323.4M958.9 288.6L924.1 323.4M965.4 288.6L930.6 323.4M971.9 288.6L937.1 323.4M978.4 288.6L943.6 323.4" stroke="#000" stroke-width="1.8" fill="none"/></g>
<path d="M 907.8 306 A 7.7 7.7 0 1 0 923.2 306 A 7.7 7.7 0 1 0 907.8 306 Z" stroke="#000" stroke-width="2.8000000000000003" fill="none" />
<path d="M 924.1 310.3 A 7.7 7.7 0 1 0 939.5 310.3 A 7.7 7.7 0 1 0 924.1 310.3 Z" fill="#fefefe" stroke="none" />
<g clip-path="url(#c48)" ><path d="M903.7 292.9L868.9 327.7M910.2 292.9L875.4 327.7M916.7 292.9L881.9 327.7M923.2 292.9L888.4 327.7M929.7 292.9L894.9 327.7M936.2 292.9L901.4 327.7M942.7 292.9L907.9 327.7M949.2 292.9L914.4 327.7M955.7 292.9L920.9 327.7M962.2 292.9L927.4 327.7M968.7 292.9L933.9 327.7M975.2 292.9L940.4 327.7M981.6 292.9L946.8 327.7M988.1 292.9L953.3 327.7M994.6 292.9L959.8 327.7" stroke="#000" stroke-width="1.8" fill="none"/></g>
<path d="M 924.1 310.3 A 7.7 7.7 0 1 0 939.5 310.3 A 7.7 7.7 0 1 0 924.1 310.3 Z" stroke="#000" stroke-width="2.8000000000000003" fill="none" />
<path d="M 941.2 312.9 A 7.7 7.7 0 1 0 956.5 312.9 A 7.7 7.7 0 1 0 941.2 312.9 Z" fill="#fefefe" stroke="none" />
<g clip-path="url(#c49)" ><path d="M920.8 295.5L886 330.3M927.3 295.5L892.5 330.3M933.8 295.5L899 330.3M940.3 295.5L905.5 330.3M946.7 295.5L911.9 330.3M953.2 295.5L918.4 330.3M959.7 295.5L924.9 330.3M966.2 295.5L931.4 330.3M972.7 295.5L937.9 330.3M979.2 295.5L944.4 330.3M985.7 295.5L950.9 330.3M992.2 295.5L957.4 330.3M998.7 295.5L963.9 330.3M1005.2 295.5L970.4 330.3M1011.7 295.5L976.9 330.3" stroke="#000" stroke-width="1.8" fill="none"/></g>
<path d="M 941.2 312.9 A 7.7 7.7 0 1 0 956.5 312.9 A 7.7 7.7 0 1 0 941.2 312.9 Z" stroke="#000" stroke-width="2.8000000000000003" fill="none" />
<path d="M 957.4 316.3 A 7.7 7.7 0 1 0 972.8 316.3 A 7.7 7.7 0 1 0 957.4 316.3 Z" fill="#fefefe" stroke="none" />
<g clip-path="url(#c50)" ><path d="M937 298.9L902.2 333.7M943.5 298.9L908.7 333.7M950 298.9L915.2 333.7M956.5 298.9L921.7 333.7M963 298.9L928.2 333.7M969.5 298.9L934.7 333.7M976 298.9L941.2 333.7M982.5 298.9L947.7 333.7M989 298.9L954.2 333.7M995.5 298.9L960.7 333.7M1002 298.9L967.2 333.7M1008.5 298.9L973.7 333.7M1014.9 298.9L980.1 333.7M1021.4 298.9L986.6 333.7M1027.9 298.9L993.1 333.7" stroke="#000" stroke-width="1.8" fill="none"/></g>
<path d="M 957.4 316.3 A 7.7 7.7 0 1 0 972.8 316.3 A 7.7 7.7 0 1 0 957.4 316.3 Z" stroke="#000" stroke-width="2.8000000000000003" fill="none" />
<path d="M 974.5 318.9 A 7.7 7.7 0 1 0 989.9 318.9 A 7.7 7.7 0 1 0 974.5 318.9 Z" fill="#fefefe" stroke="none" />
<g clip-path="url(#c51)" ><path d="M954.1 301.5L919.3 336.3M960.6 301.5L925.8 336.3M967.1 301.5L932.3 336.3M973.6 301.5L938.8 336.3M980 301.5L945.2 336.3M986.5 301.5L951.7 336.3M993 301.5L958.2 336.3M999.5 301.5L964.7 336.3M1006 301.5L971.2 336.3M1012.5 301.5L977.7 336.3M1019 301.5L984.2 336.3M1025.5 301.5L990.7 336.3M1032 301.5L997.2 336.3M1038.5 301.5L1003.7 336.3M1045 301.5L1010.2 336.3" stroke="#000" stroke-width="1.8" fill="none"/></g>
<path d="M 974.5 318.9 A 7.7 7.7 0 1 0 989.9 318.9 A 7.7 7.7 0 1 0 974.5 318.9 Z" stroke="#000" stroke-width="2.8000000000000003" fill="none" />
<path d="M 990.7 322.3 A 7.7 7.7 0 1 0 1006.1 322.3 A 7.7 7.7 0 1 0 990.7 322.3 Z" fill="#fefefe" stroke="none" />
<g clip-path="url(#c52)" ><path d="M970.3 304.9L935.5 339.7M976.8 304.9L942 339.7M983.3 304.9L948.5 339.7M989.8 304.9L955 339.7M996.3 304.9L961.5 339.7M1002.8 304.9L968 339.7M1009.3 304.9L974.5 339.7M1015.8 304.9L981 339.7M1022.3 304.9L987.5 339.7M1028.8 304.9L994 339.7M1035.3 304.9L1000.5 339.7M1041.8 304.9L1007 339.7M1048.2 304.9L1013.4 339.7M1054.7 304.9L1019.9 339.7M1061.2 304.9L1026.4 339.7" stroke="#000" stroke-width="1.8" fill="none"/></g>
<path d="M 990.7 322.3 A 7.7 7.7 0 1 0 1006.1 322.3 A 7.7 7.7 0 1 0 990.7 322.3 Z" stroke="#000" stroke-width="2.8000000000000003" fill="none" />
<path d="M 1007 324.8 A 7.7 7.7 0 1 0 1022.3 324.8 A 7.7 7.7 0 1 0 1007 324.8 Z" fill="#fefefe" stroke="none" />
<g clip-path="url(#c53)" ><path d="M986.6 307.4L951.8 342.2M993.1 307.4L958.3 342.2M999.6 307.4L964.8 342.2M1006.1 307.4L971.3 342.2M1012.6 307.4L977.8 342.2M1019.1 307.4L984.3 342.2M1025.6 307.4L990.8 342.2M1032.1 307.4L997.3 342.2M1038.6 307.4L1003.8 342.2M1045.1 307.4L1010.3 342.2M1051.6 307.4L1016.8 342.2M1058 307.4L1023.2 342.2M1064.5 307.4L1029.7 342.2M1071 307.4L1036.2 342.2M1077.5 307.4L1042.7 342.2" stroke="#000" stroke-width="1.8" fill="none"/></g>
<path d="M 1007 324.8 A 7.7 7.7 0 1 0 1022.3 324.8 A 7.7 7.7 0 1 0 1007 324.8 Z" stroke="#000" stroke-width="2.8000000000000003" fill="none" />
<path d="M 1024 328.3 A 7.7 7.7 0 1 0 1039.4 328.3 A 7.7 7.7 0 1 0 1024 328.3 Z" fill="#fefefe" stroke="none" />
<g clip-path="url(#c54)" ><path d="M1003.6 310.9L968.8 345.7M1010.1 310.9L975.3 345.7M1016.6 310.9L981.8 345.7M1023.1 310.9L988.3 345.7M1029.6 310.9L994.8 345.7M1036.1 310.9L1001.3 345.7M1042.6 310.9L1007.8 345.7M1049.1 310.9L1014.3 345.7M1055.6 310.9L1020.8 345.7M1062.1 310.9L1027.3 345.7M1068.6 310.9L1033.8 345.7M1075.1 310.9L1040.3 345.7M1081.5 310.9L1046.7 345.7M1088 310.9L1053.2 345.7M1094.5 310.9L1059.7 345.7" stroke="#000" stroke-width="1.8" fill="none"/></g>
<path d="M 1024 328.3 A 7.7 7.7 0 1 0 1039.4 328.3 A 7.7 7.7 0 1 0 1024 328.3 Z" stroke="#000" stroke-width="2.8000000000000003" fill="none" />
<path d="M 1040.3 329.1 A 7.7 7.7 0 1 0 1055.7 329.1 A 7.7 7.7 0 1 0 1040.3 329.1 Z" fill="#fefefe" stroke="none" />
<g clip-path="url(#c55)" ><path d="M1019.9 311.7L985.1 346.5M1026.4 311.7L991.6 346.5M1032.9 311.7L998.1 346.5M1039.4 311.7L1004.6 346.5M1045.9 311.7L1011.1 346.5M1052.4 311.7L1017.6 346.5M1058.9 311.7L1024.1 346.5M1065.4 311.7L1030.6 346.5M1071.9 311.7L1037.1 346.5M1078.4 311.7L1043.6 346.5M1084.8 311.7L1050 346.5M1091.3 311.7L1056.5 346.5M1097.8 311.7L1063 346.5M1104.3 311.7L1069.5 346.5M1110.8 311.7L1076 346.5" stroke="#000" stroke-width="1.8" fill="none"/></g>
<path d="M 1040.3 329.1 A 7.7 7.7 0 1 0 1055.7 329.1 A 7.7 7.7 0 1 0 1040.3 329.1 Z" stroke="#000" stroke-width="2.8000000000000003" fill="none" />
<path d="M 1057.4 330 A 7.7 7.7 0 1 0 1072.7 330 A 7.7 7.7 0 1 0 1057.4 330 Z" fill="#fefefe" stroke="none" />
<g clip-path="url(#c56)" ><path d="M1037 312.6L1002.2 347.4M1043.5 312.6L1008.7 347.4M1049.9 312.6L1015.1 347.4M1056.4 312.6L1021.6 347.4M1062.9 312.6L1028.1 347.4M1069.4 312.6L1034.6 347.4M1075.9 312.6L1041.1 347.4M1082.4 312.6L1047.6 347.4M1088.9 312.6L1054.1 347.4M1095.4 312.6L1060.6 347.4M1101.9 312.6L1067.1 347.4M1108.4 312.6L1073.6 347.4M1114.9 312.6L1080.1 347.4M1121.4 312.6L1086.6 347.4M1127.9 312.6L1093.1 347.4" stroke="#000" stroke-width="1.8" fill="none"/></g>
<path d="M 1057.4 330 A 7.7 7.7 0 1 0 1072.7 330 A 7.7 7.7 0 1 0 1057.4 330 Z" stroke="#000" stroke-width="2.8000000000000003" fill="none" />
<path d="M 1073.6 330.5 A 7.7 7.7 0 1 0 1089 330.5 A 7.7 7.7 0 1 0 1073.6 330.5 Z" fill="#fefefe" stroke="none" />
<g clip-path="url(#c57)" ><path d="M1053.2 313.1L1018.4 347.9M1059.7 313.1L1024.9 347.9M1066.2 313.1L1031.4 347.9M1072.7 313.1L1037.9 347.9M1079.2 313.1L1044.4 347.9M1085.7 313.1L1050.9 347.9M1092.2 313.1L1057.4 347.9M1098.7 313.1L1063.9 347.9M1105.1 313.1L1070.3 347.9M1111.6 313.1L1076.8 347.9M1118.1 313.1L1083.3 347.9M1124.6 313.1L1089.8 347.9M1131.1 313.1L1096.3 347.9M1137.6 313.1L1102.8 347.9M1144.1 313.1L1109.3 347.9" stroke="#000" stroke-width="1.8" fill="none"/></g>
<path d="M 1073.6 330.5 A 7.7 7.7 0 1 0 1089 330.5 A 7.7 7.7 0 1 0 1073.6 330.5 Z" stroke="#000" stroke-width="2.8000000000000003" fill="none" />
<path d="M 1090.7 331.2 A 7.7 7.7 0 1 0 1106.1 331.2 A 7.7 7.7 0 1 0 1090.7 331.2 Z" fill="#fefefe" stroke="none" />
<g clip-path="url(#c58)" ><path d="M1070.3 313.8L1035.5 348.6M1076.8 313.8L1042 348.6M1083.3 313.8L1048.5 348.6M1089.8 313.8L1055 348.6M1096.2 313.8L1061.4 348.6M1102.7 313.8L1067.9 348.6M1109.2 313.8L1074.4 348.6M1115.7 313.8L1080.9 348.6M1122.2 313.8L1087.4 348.6M1128.7 313.8L1093.9 348.6M1135.2 313.8L1100.4 348.6M1141.7 313.8L1106.9 348.6M1148.2 313.8L1113.4 348.6M1154.7 313.8L1119.9 348.6M1161.2 313.8L1126.4 348.6" stroke="#000" stroke-width="1.8" fill="none"/></g>
<path d="M 1090.7 331.2 A 7.7 7.7 0 1 0 1106.1 331.2 A 7.7 7.7 0 1 0 1090.7 331.2 Z" stroke="#000" stroke-width="2.8000000000000003" fill="none" />
<path d="M 1107.6 331.2 A 7.7 7.7 0 1 0 1123 331.2 A 7.7 7.7 0 1 0 1107.6 331.2 Z" fill="#fefefe" stroke="none" />
<g clip-path="url(#c59)" ><path d="M1087.2 313.8L1052.4 348.6M1093.7 313.8L1058.9 348.6M1100.2 313.8L1065.4 348.6M1106.7 313.8L1071.9 348.6M1113.2 313.8L1078.4 348.6M1119.7 313.8L1084.9 348.6M1126.1 313.8L1091.3 348.6M1132.6 313.8L1097.8 348.6M1139.1 313.8L1104.3 348.6M1145.6 313.8L1110.8 348.6M1152.1 313.8L1117.3 348.6M1158.6 313.8L1123.8 348.6M1165.1 313.8L1130.3 348.6M1171.6 313.8L1136.8 348.6M1178.1 313.8L1143.3 348.6" stroke="#000" stroke-width="1.8" fill="none"/></g>
<path d="M 1107.6 331.2 A 7.7 7.7 0 1 0 1123 331.2 A 7.7 7.7 0 1 0 1107.6 331.2 Z" stroke="#000" stroke-width="2.8000000000000003" fill="none" />
<path d="M 1124.5 331.2 A 7.7 7.7 0 1 0 1139.9 331.2 A 7.7 7.7 0 1 0 1124.5 331.2 Z" fill="#fefefe" stroke="none" />
<g clip-path="url(#c60)" ><path d="M1104.1 313.8L1069.3 348.6M1110.6 313.8L1075.8 348.6M1117.1 313.8L1082.3 348.6M1123.6 313.8L1088.8 348.6M1130.1 313.8L1095.3 348.6M1136.6 313.8L1101.8 348.6M1143.1 313.8L1108.3 348.6M1149.6 313.8L1114.8 348.6M1156.1 313.8L1121.3 348.6M1162.5 313.8L1127.7 348.6M1169 313.8L1134.2 348.6M1175.5 313.8L1140.7 348.6M1182 313.8L1147.2 348.6M1188.5 313.8L1153.7 348.6M1195 313.8L1160.2 348.6" stroke="#000" stroke-width="1.8" fill="none"/></g>
<path d="M 1124.5 331.2 A 7.7 7.7 0 1 0 1139.9 331.2 A 7.7 7.7 0 1 0 1124.5 331.2 Z" stroke="#000" stroke-width="2.8000000000000003" fill="none" />
<path d="M 1141.4 331.2 A 7.7 7.7 0 1 0 1156.8 331.2 A 7.7 7.7 0 1 0 1141.4 331.2 Z" fill="#fefefe" stroke="none" />
<g clip-path="url(#c61)" ><path d="M1121 313.8L1086.2 348.6M1127.5 313.8L1092.7 348.6M1134 313.8L1099.2 348.6M1140.5 313.8L1105.7 348.6M1147 313.8L1112.2 348.6M1153.5 313.8L1118.7 348.6M1160 313.8L1125.2 348.6M1166.5 313.8L1131.7 348.6M1173 313.8L1138.2 348.6M1179.5 313.8L1144.7 348.6M1186 313.8L1151.2 348.6M1192.4 313.8L1157.6 348.6M1198.9 313.8L1164.1 348.6M1205.4 313.8L1170.6 348.6M1211.9 313.8L1177.1 348.6" stroke="#000" stroke-width="1.8" fill="none"/></g>
<path d="M 1141.4 331.2 A 7.7 7.7 0 1 0 1156.8 331.2 A 7.7 7.7 0 1 0 1141.4 331.2 Z" stroke="#000" stroke-width="2.8000000000000003" fill="none" />
<path d="M 1158.3 331.2 A 7.7 7.7 0 1 0 1173.7 331.2 A 7.7 7.7 0 1 0 1158.3 331.2 Z" fill="#fefefe" stroke="none" />
<g clip-path="url(#c62)" ><path d="M1137.9 313.8L1103.1 348.6M1144.4 313.8L1109.6 348.6M1150.9 313.8L1116.1 348.6M1157.4 313.8L1122.6 348.6M1163.9 313.8L1129.1 348.6M1170.4 313.8L1135.6 348.6M1176.9 313.8L1142.1 348.6M1183.4 313.8L1148.6 348.6M1189.9 313.8L1155.1 348.6M1196.4 313.8L1161.6 348.6M1202.9 313.8L1168.1 348.6M1209.4 313.8L1174.6 348.6M1215.9 313.8L1181.1 348.6M1222.4 313.8L1187.6 348.6M1228.8 313.8L1194 348.6" stroke="#000" stroke-width="1.8" fill="none"/></g>
<path d="M 1158.3 331.2 A 7.7 7.7 0 1 0 1173.7 331.2 A 7.7 7.7 0 1 0 1158.3 331.2 Z" stroke="#000" stroke-width="2.8000000000000003" fill="none" />
<path d="M 1175.3 331.2 A 7.7 7.7 0 1 0 1190.6 331.2 A 7.7 7.7 0 1 0 1175.3 331.2 Z" fill="#fefefe" stroke="none" />
<g clip-path="url(#c63)" ><path d="M1154.9 313.8L1120.1 348.6M1161.3 313.8L1126.5 348.6M1167.8 313.8L1133 348.6M1174.3 313.8L1139.5 348.6M1180.8 313.8L1146 348.6M1187.3 313.8L1152.5 348.6M1193.8 313.8L1159 348.6M1200.3 313.8L1165.5 348.6M1206.8 313.8L1172 348.6M1213.3 313.8L1178.5 348.6M1219.8 313.8L1185 348.6M1226.3 313.8L1191.5 348.6M1232.8 313.8L1198 348.6M1239.3 313.8L1204.5 348.6M1245.8 313.8L1211 348.6" stroke="#000" stroke-width="1.8" fill="none"/></g>
<path d="M 1175.3 331.2 A 7.7 7.7 0 1 0 1190.6 331.2 A 7.7 7.7 0 1 0 1175.3 331.2 Z" stroke="#000" stroke-width="2.8000000000000003" fill="none" />
<path d="M 1192.2 331.2 A 7.7 7.7 0 1 0 1207.6 331.2 A 7.7 7.7 0 1 0 1192.2 331.2 Z" fill="#fefefe" stroke="none" />
<g clip-path="url(#c64)" ><path d="M1171.8 313.8L1137 348.6M1178.3 313.8L1143.5 348.6M1184.8 313.8L1150 348.6M1191.3 313.8L1156.5 348.6M1197.7 313.8L1162.9 348.6M1204.2 313.8L1169.4 348.6M1210.7 313.8L1175.9 348.6M1217.2 313.8L1182.4 348.6M1223.7 313.8L1188.9 348.6M1230.2 313.8L1195.4 348.6M1236.7 313.8L1201.9 348.6M1243.2 313.8L1208.4 348.6M1249.7 313.8L1214.9 348.6M1256.2 313.8L1221.4 348.6M1262.7 313.8L1227.9 348.6" stroke="#000" stroke-width="1.8" fill="none"/></g>
<path d="M 1192.2 331.2 A 7.7 7.7 0 1 0 1207.6 331.2 A 7.7 7.7 0 1 0 1192.2 331.2 Z" stroke="#000" stroke-width="2.8000000000000003" fill="none" />
<path d="M 2445.6 353.9 L 2551.5 307.7 L 2582.3 307.7 L 2582.3 315.4 L 2660 312.9 L 2660 334.2 L 2554.9 339.4 L 2554.9 362.4 L 2537.8 356.4 L 2537 364.1 L 2521.6 358.2 L 2519.9 366.7 L 2504.5 360.7 L 2503.7 368.4 L 2487.4 362.4 L 2486.6 371 L 2470.3 365 L 2469.5 372.7 L 2454.1 366.7 L 2454.1 377 L 2445.6 377 Z" fill="#f4fafc"/><g clip-path="url(#c65)" ><path d="M2433.9 305.7L2360.6 379M2453.2 305.7L2379.9 379M2472.5 305.7L2399.2 379M2491.9 305.7L2418.6 379M2511.2 305.7L2437.9 379M2530.5 305.7L2457.2 379M2549.8 305.7L2476.5 379M2569.1 305.7L2495.8 379M2588.4 305.7L2515.1 379M2607.7 305.7L2534.4 379M2627 305.7L2553.7 379M2646.3 305.7L2573 379M2665.6 305.7L2592.3 379M2684.9 305.7L2611.6 379M2704.3 305.7L2631 379M2723.6 305.7L2650.3 379M2742.9 305.7L2669.6 379M2358.8 305.7L2432.1 379M2378.1 305.7L2451.4 379M2397.4 305.7L2470.7 379M2416.7 305.7L2490 379M2436 305.7L2509.3 379M2455.3 305.7L2528.6 379M2474.6 305.7L2547.9 379M2493.9 305.7L2567.2 379M2513.2 305.7L2586.5 379M2532.5 305.7L2605.8 379M2551.8 305.7L2625.1 379M2571.1 305.7L2644.4 379M2590.5 305.7L2663.8 379M2609.8 305.7L2683.1 379M2629.1 305.7L2702.4 379M2648.4 305.7L2721.7 379M2667.7 305.7L2741 379" stroke="#7fbbd8" stroke-width="2.0" fill="none"/></g>
<g clip-path="url(#c66)" ><path d="M2455.6 294.3L2418.8 331.1M2474.9 294.3L2438.1 331.1M2494.2 294.3L2457.4 331.1M2513.5 294.3L2476.7 331.1M2532.8 294.3L2496 331.1M2552.1 294.3L2515.3 331.1M2571.4 294.3L2534.6 331.1M2590.7 294.3L2553.9 331.1M2419.5 294.3L2456.3 331.1M2438.8 294.3L2475.6 331.1M2458.1 294.3L2494.9 331.1M2477.4 294.3L2514.2 331.1M2496.7 294.3L2533.5 331.1M2516 294.3L2552.8 331.1M2535.3 294.3L2572.1 331.1" stroke="#78b84c" stroke-width="1.9000000000000001" fill="none"/></g>
<path d="M 2229.4 405.1 Q 2296.9 383.8 2390.9 361.6 Q 2413.1 354.7 2450.7 330 Q 2476.3 312 2501.9 303.8 Q 2532.7 294.9 2561.7 294.1 Q 2595.9 295.8 2630.1 297.5 Q 2647.2 296.6 2660 290.7" stroke="#a5523f" stroke-width="1.9" fill="none" />
<path d="M 2231.1 405.1 L 2242.2 472" stroke="#000" stroke-width="3.4" fill="none" />
<path d="M 2249 398.3 L 2258.4 472" stroke="#000" stroke-width="3.4" fill="none" />
<path d="M 2265.3 393.2 L 2275.5 472" stroke="#000" stroke-width="3.4" fill="none" />
<path d="M 2281.5 388.9 L 2291.8 474.6" stroke="#000" stroke-width="3.4" fill="none" />
<path d="M 2297.7 383.8 L 2308.9 478.8" stroke="#000" stroke-width="3.4" fill="none" />
<path d="M 2314 380.4 L 2325.1 482.3" stroke="#000" stroke-width="3.4" fill="none" />
<path d="M 2330.2 376.1 L 2341.3 485.7" stroke="#000" stroke-width="3.4" fill="none" />
<path d="M 2346.4 372.7 L 2358.4 488.2" stroke="#000" stroke-width="3.4" fill="none" />
<path d="M 2362.7 368.4 L 2374.6 490.8" stroke="#000" stroke-width="3.4" fill="none" />
<path d="M 2378.9 365 L 2391.7 494.2" stroke="#000" stroke-width="3.4" fill="none" />
<path d="M 2395.1 359.9 L 2408 499.3" stroke="#000" stroke-width="3.4" fill="none" />
<path d="M 2411.7 353 L 2411.7 482" stroke="#000" stroke-width="3.4" fill="none" />
<path d="M 2229.4 517.1 L 2229.4 294.9 L 2560 247.1 L 2630.1 247.1" stroke="#000" stroke-width="3.8" fill="none" />
<g clip-path="url(#c67)" ><path d="M2559.7 238.7L2631.2 238.7M2559.7 247.1L2631.2 247.1M2559.7 255.5L2631.2 255.5M2559.7 263.8L2631.2 263.8M2559.7 272.2L2631.2 272.2M2559.7 280.6L2631.2 280.6M2559.7 289L2631.2 289M2559.7 297.3L2631.2 297.3" stroke="#000" stroke-width="3.4" fill="none"/></g>
<path d="M 2561.7 247.1 L 2561.7 294.9 M 2629.2 247.1 L 2629.2 298.3" stroke="#000" stroke-width="3.4" fill="none" />
<path d="M 2630.1 245.4 L 2648.9 230" stroke="#000" stroke-width="1.8" fill="none" />
<path d="M 2478 313.7 L 2504.5 313.7 L 2504.5 301.8" stroke="#000" stroke-width="3.4" fill="none" />
<path d="M 2452.4 329.4 L 2500.2 330" stroke="#000" stroke-width="3.4" fill="none" />
<path d="M 2534.4 294.9 L 2534.4 315.4 M 2551.5 293.6 L 2551.5 307.7" stroke="#000" stroke-width="3.4" fill="none" />
<path d="M 2445.6 392.3 L 2445.6 353.9 L 2551.5 307.7 L 2582.3 307.7 L 2582.3 315.4 L 2660 312.9" stroke="#000" stroke-width="3.4" fill="none" />
<path d="M 2554.9 391.5 L 2554.9 339.4 L 2660 334.2 M 2554.9 352.2 L 2660 347.9" stroke="#000" stroke-width="3.4" fill="none" />
<path d="M 2445.6 391.5 L 2660 391.5 M 2445.6 418.8 L 2660 418.8" stroke="#000" stroke-width="3.6999999999999997" fill="none" />
<path d="M 2534.4 391.5 L 2534.4 418.8" stroke="#000" stroke-width="3.4" fill="none" />
<path d="M 2445.6 377 L 2452.4 377" stroke="#000" stroke-width="3.4" fill="none" />
<path d="M 2454.1 391.5 L 2454.1 366.7 L 2469.5 372.7" stroke="#000" stroke-width="3.4" fill="none" />
<path d="M 2470.3 391.5 L 2470.3 365 L 2486.6 371" stroke="#000" stroke-width="3.4" fill="none" />
<path d="M 2487.4 391.5 L 2487.4 362.4 L 2503.7 368.4" stroke="#000" stroke-width="3.4" fill="none" />
<path d="M 2504.5 391.5 L 2504.5 360.7 L 2520.7 366.7" stroke="#000" stroke-width="3.4" fill="none" />
<path d="M 2521.6 391.5 L 2521.6 358.2 L 2537 364.1" stroke="#000" stroke-width="3.4" fill="none" />
<path d="M 2537.8 391.5 L 2537.8 356.4 L 2554.1 362.4" stroke="#000" stroke-width="3.4" fill="none" />
<path d="M 2445.6 436.1 L 2454.1 436.1 L 2454.1 443 L 2469.5 437.8 L 2470.3 445.5 L 2486.6 440.4 L 2487.4 448.1 L 2503.7 443 L 2504.5 449.8 L 2519.9 444.7 L 2521.6 452.4 L 2537 447.2 L 2537.8 454.9 L 2554.1 449 L 2554.9 472 L 2660 477.1 L 2660 497.7 L 2582.3 494.2 L 2582.3 502.8 L 2551.5 502.8 L 2445.6 456.6 Z" fill="#f4fafc"/><g clip-path="url(#c68)" ><path d="M2430.3 434.1L2359.6 504.8M2449.6 434.1L2378.9 504.8M2468.9 434.1L2398.2 504.8M2488.3 434.1L2417.6 504.8M2507.6 434.1L2436.9 504.8M2526.9 434.1L2456.2 504.8M2546.2 434.1L2475.5 504.8M2565.5 434.1L2494.8 504.8M2584.8 434.1L2514.1 504.8M2604.1 434.1L2533.4 504.8M2623.4 434.1L2552.7 504.8M2642.7 434.1L2572 504.8M2662 434.1L2591.3 504.8M2681.3 434.1L2610.6 504.8M2700.7 434.1L2630 504.8M2720 434.1L2649.3 504.8M2739.3 434.1L2668.6 504.8M2367.5 434.1L2438.2 504.8M2386.8 434.1L2457.5 504.8M2406.1 434.1L2476.8 504.8M2425.4 434.1L2496.1 504.8M2444.7 434.1L2515.4 504.8M2464 434.1L2534.7 504.8M2483.3 434.1L2554 504.8M2502.6 434.1L2573.3 504.8M2521.9 434.1L2592.6 504.8M2541.3 434.1L2612 504.8M2560.6 434.1L2631.3 504.8M2579.9 434.1L2650.6 504.8M2599.2 434.1L2669.9 504.8M2618.5 434.1L2689.2 504.8M2637.8 434.1L2708.5 504.8M2657.1 434.1L2727.8 504.8M2676.4 434.1L2747.1 504.8" stroke="#7fbbd8" stroke-width="2.0" fill="none"/></g>
<g clip-path="url(#c69)" ><path d="M2409.5 481.1L2351.6 539M2428.8 481.1L2370.9 539M2448.1 481.1L2390.2 539M2467.4 481.1L2409.5 539M2486.7 481.1L2428.8 539M2506 481.1L2448.1 539M2525.3 481.1L2467.4 539M2544.6 481.1L2486.7 539M2563.9 481.1L2506 539M2583.3 481.1L2525.4 539M2602.6 481.1L2544.7 539M2349.7 481.1L2407.6 539M2369 481.1L2426.9 539M2388.3 481.1L2446.2 539M2407.6 481.1L2465.5 539M2427 481.1L2484.9 539M2446.3 481.1L2504.2 539M2465.6 481.1L2523.5 539M2484.9 481.1L2542.8 539M2504.2 481.1L2562.1 539M2523.5 481.1L2581.4 539M2542.8 481.1L2600.7 539" stroke="#78b84c" stroke-width="1.9000000000000001" fill="none"/></g>
<g clip-path="url(#c70)" ><path d="M2223.7 487.1L2144.5 566.3M2252.4 487.1L2173.2 566.3M2281.1 487.1L2201.9 566.3M2309.8 487.1L2230.6 566.3M2338.5 487.1L2259.3 566.3M2367.2 487.1L2288 566.3M2395.9 487.1L2316.7 566.3M2424.6 487.1L2345.4 566.3M2453.3 487.1L2374.1 566.3M2482 487.1L2402.8 566.3M2510.7 487.1L2431.5 566.3M2539.5 487.1L2460.3 566.3M2568.2 487.1L2489 566.3M2596.9 487.1L2517.7 566.3M2625.6 487.1L2546.4 566.3M2654.3 487.1L2575.1 566.3M2683 487.1L2603.8 566.3M2711.7 487.1L2632.5 566.3" stroke="#000" stroke-width="2.8" fill="none"/></g>
<path d="M 2229.4 516.4 L 2560 564.3 L 2630.1 564.3 L 2630.1 554.9" stroke="#000" stroke-width="3.8" fill="none" />
<path d="M 2229.4 488.8 L 2288.3 489.1 L 2411.4 513.9 L 2503.7 516.1" stroke="#000" stroke-width="4.9" fill="none" />
<path d="M 2503.7 496.8 L 2503.7 550.6" stroke="#000" stroke-width="3.8" fill="none" />
<path d="M 2409.7 496.8 L 2504.5 496.8" stroke="#000" stroke-width="4.0" fill="none" />
<path d="M 2411.7 481.4 L 2500.2 481.4 L 2551.5 502.8" stroke="#000" stroke-width="3.4" fill="none" />
<path d="M 2445.6 419 L 2445.6 456.6 L 2551.5 502.8 L 2582.3 502.8 L 2582.3 494.2 L 2660 497.7" stroke="#000" stroke-width="3.4" fill="none" />
<path d="M 2554.9 419 L 2554.9 472 L 2660 477.1 M 2554.9 458.3 L 2660 463.5" stroke="#000" stroke-width="3.4" fill="none" />
<path d="M 2445.6 435.3 L 2452.4 435.3" stroke="#000" stroke-width="3.4" fill="none" />
<path d="M 2454.1 419 L 2454.1 443 L 2469.5 437.5" stroke="#000" stroke-width="3.4" fill="none" />
<path d="M 2470.3 419 L 2470.3 445.5 L 2486.6 440.1" stroke="#000" stroke-width="3.4" fill="none" />
<path d="M 2487.4 419 L 2487.4 448.1 L 2503.7 442.6" stroke="#000" stroke-width="3.4" fill="none" />
<path d="M 2504.5 419 L 2504.5 449.8 L 2520.7 444.3" stroke="#000" stroke-width="3.4" fill="none" />
<path d="M 2521.6 419 L 2521.6 452.4 L 2537 446.9" stroke="#000" stroke-width="3.4" fill="none" />
<path d="M 2537.8 419 L 2537.8 454.9 L 2554.1 449.5" stroke="#000" stroke-width="3.4" fill="none" />
<path d="M 2534.4 497.7 L 2534.4 537 M 2551.5 502.8 L 2551.5 540.4" stroke="#000" stroke-width="3.4" fill="none" />
<path d="M 2504.5 539.5 L 2551.5 539.5" stroke="#000" stroke-width="6" fill="none" />
<path d="M 2227 479.7 A 7.5 7.5 0 1 0 2242 479.7 A 7.5 7.5 0 1 0 2227 479.7 Z" fill="#fdf1ec" stroke="none" />
<g clip-path="url(#c71)" ><path d="M2169.7 462.7L2203.7 496.7M2176.5 462.7L2210.5 496.7M2183.3 462.7L2217.3 496.7M2190.2 462.7L2224.2 496.7M2197 462.7L2231 496.7M2203.8 462.7L2237.8 496.7M2210.7 462.7L2244.7 496.7M2217.5 462.7L2251.5 496.7M2224.4 462.7L2258.4 496.7M2231.2 462.7L2265.2 496.7M2238 462.7L2272 496.7M2244.9 462.7L2278.9 496.7M2251.7 462.7L2285.7 496.7M2258.5 462.7L2292.5 496.7M2265.4 462.7L2299.4 496.7" stroke="#a3412e" stroke-width="1.8" fill="none"/></g>
<path d="M 2227 479.7 A 7.5 7.5 0 1 0 2242 479.7 A 7.5 7.5 0 1 0 2227 479.7 Z" stroke="#000" stroke-width="3.4" fill="none" />
<path d="M 2243.2 479.7 A 7.5 7.5 0 1 0 2258.3 479.7 A 7.5 7.5 0 1 0 2243.2 479.7 Z" fill="#fdf1ec" stroke="none" />
<g clip-path="url(#c72)" ><path d="M2185.9 462.7L2219.9 496.7M2192.7 462.7L2226.7 496.7M2199.6 462.7L2233.6 496.7M2206.4 462.7L2240.4 496.7M2213.2 462.7L2247.2 496.7M2220.1 462.7L2254.1 496.7M2226.9 462.7L2260.9 496.7M2233.7 462.7L2267.7 496.7M2240.6 462.7L2274.6 496.7M2247.4 462.7L2281.4 496.7M2254.3 462.7L2288.3 496.7M2261.1 462.7L2295.1 496.7M2267.9 462.7L2301.9 496.7M2274.8 462.7L2308.8 496.7M2281.6 462.7L2315.6 496.7" stroke="#a3412e" stroke-width="1.8" fill="none"/></g>
<path d="M 2243.2 479.7 A 7.5 7.5 0 1 0 2258.3 479.7 A 7.5 7.5 0 1 0 2243.2 479.7 Z" stroke="#000" stroke-width="3.4" fill="none" />
<path d="M 2259.5 479.7 A 7.5 7.5 0 1 0 2274.5 479.7 A 7.5 7.5 0 1 0 2259.5 479.7 Z" fill="#fdf1ec" stroke="none" />
<g clip-path="url(#c73)" ><path d="M2202.1 462.7L2236.1 496.7M2209 462.7L2243 496.7M2215.8 462.7L2249.8 496.7M2222.6 462.7L2256.6 496.7M2229.5 462.7L2263.5 496.7M2236.3 462.7L2270.3 496.7M2243.1 462.7L2277.1 496.7M2250 462.7L2284 496.7M2256.8 462.7L2290.8 496.7M2263.7 462.7L2297.7 496.7M2270.5 462.7L2304.5 496.7M2277.3 462.7L2311.3 496.7M2284.2 462.7L2318.2 496.7M2291 462.7L2325 496.7M2297.8 462.7L2331.8 496.7" stroke="#a3412e" stroke-width="1.8" fill="none"/></g>
<path d="M 2259.5 479.7 A 7.5 7.5 0 1 0 2274.5 479.7 A 7.5 7.5 0 1 0 2259.5 479.7 Z" stroke="#000" stroke-width="3.4" fill="none" />
<path d="M 2275.7 479.7 A 7.5 7.5 0 1 0 2290.7 479.7 A 7.5 7.5 0 1 0 2275.7 479.7 Z" fill="#fdf1ec" stroke="none" />
<g clip-path="url(#c74)" ><path d="M2218.4 462.7L2252.4 496.7M2225.2 462.7L2259.2 496.7M2232 462.7L2266 496.7M2238.9 462.7L2272.9 496.7M2245.7 462.7L2279.7 496.7M2252.5 462.7L2286.5 496.7M2259.4 462.7L2293.4 496.7M2266.2 462.7L2300.2 496.7M2273 462.7L2307 496.7M2279.9 462.7L2313.9 496.7M2286.7 462.7L2320.7 496.7M2293.6 462.7L2327.6 496.7M2300.4 462.7L2334.4 496.7M2307.2 462.7L2341.2 496.7M2314.1 462.7L2348.1 496.7" stroke="#a3412e" stroke-width="1.8" fill="none"/></g>
<path d="M 2275.7 479.7 A 7.5 7.5 0 1 0 2290.7 479.7 A 7.5 7.5 0 1 0 2275.7 479.7 Z" stroke="#000" stroke-width="3.4" fill="none" />
<path d="M 2292.8 484 A 7.5 7.5 0 1 0 2307.8 484 A 7.5 7.5 0 1 0 2292.8 484 Z" fill="#fdf1ec" stroke="none" />
<g clip-path="url(#c75)" ><path d="M2235.5 467L2269.5 501M2242.3 467L2276.3 501M2249.2 467L2283.2 501M2256 467L2290 501M2262.8 467L2296.8 501M2269.7 467L2303.7 501M2276.5 467L2310.5 501M2283.3 467L2317.3 501M2290.2 467L2324.2 501M2297 467L2331 501M2303.8 467L2337.8 501M2310.7 467L2344.7 501M2317.5 467L2351.5 501M2324.3 467L2358.3 501M2331.2 467L2365.2 501" stroke="#a3412e" stroke-width="1.8" fill="none"/></g>
<path d="M 2292.8 484 A 7.5 7.5 0 1 0 2307.8 484 A 7.5 7.5 0 1 0 2292.8 484 Z" stroke="#000" stroke-width="3.4" fill="none" />
<path d="M 2309 487.4 A 7.5 7.5 0 1 0 2324.1 487.4 A 7.5 7.5 0 1 0 2309 487.4 Z" fill="#fdf1ec" stroke="none" />
<g clip-path="url(#c76)" ><path d="M2251.7 470.4L2285.7 504.4M2258.5 470.4L2292.5 504.4M2265.4 470.4L2299.4 504.4M2272.2 470.4L2306.2 504.4M2279 470.4L2313 504.4M2285.9 470.4L2319.9 504.4M2292.7 470.4L2326.7 504.4M2299.5 470.4L2333.5 504.4M2306.4 470.4L2340.4 504.4M2313.2 470.4L2347.2 504.4M2320.1 470.4L2354.1 504.4M2326.9 470.4L2360.9 504.4M2333.7 470.4L2367.7 504.4M2340.6 470.4L2374.6 504.4M2347.4 470.4L2381.4 504.4" stroke="#a3412e" stroke-width="1.8" fill="none"/></g>
<path d="M 2309 487.4 A 7.5 7.5 0 1 0 2324.1 487.4 A 7.5 7.5 0 1 0 2309 487.4 Z" stroke="#000" stroke-width="3.4" fill="none" />
<path d="M 2325.3 490.8 A 7.5 7.5 0 1 0 2340.3 490.8 A 7.5 7.5 0 1 0 2325.3 490.8 Z" fill="#fdf1ec" stroke="none" />
<g clip-path="url(#c77)" ><path d="M2267.9 473.8L2301.9 507.8M2274.8 473.8L2308.8 507.8M2281.6 473.8L2315.6 507.8M2288.4 473.8L2322.4 507.8M2295.3 473.8L2329.3 507.8M2302.1 473.8L2336.1 507.8M2308.9 473.8L2342.9 507.8M2315.8 473.8L2349.8 507.8M2322.6 473.8L2356.6 507.8M2329.4 473.8L2363.4 507.8M2336.3 473.8L2370.3 507.8M2343.1 473.8L2377.1 507.8M2349.9 473.8L2383.9 507.8M2356.8 473.8L2390.8 507.8M2363.6 473.8L2397.6 507.8" stroke="#a3412e" stroke-width="1.8" fill="none"/></g>
<path d="M 2325.3 490.8 A 7.5 7.5 0 1 0 2340.3 490.8 A 7.5 7.5 0 1 0 2325.3 490.8 Z" stroke="#000" stroke-width="3.4" fill="none" />
<path d="M 2342.3 493.4 A 7.5 7.5 0 1 0 2357.4 493.4 A 7.5 7.5 0 1 0 2342.3 493.4 Z" fill="#fdf1ec" stroke="none" />
<g clip-path="url(#c78)" ><path d="M2285 476.4L2319 510.4M2291.9 476.4L2325.9 510.4M2298.7 476.4L2332.7 510.4M2305.5 476.4L2339.5 510.4M2312.4 476.4L2346.4 510.4M2319.2 476.4L2353.2 510.4M2326.1 476.4L2360.1 510.4M2332.9 476.4L2366.9 510.4M2339.7 476.4L2373.7 510.4M2346.6 476.4L2380.6 510.4M2353.4 476.4L2387.4 510.4M2360.2 476.4L2394.2 510.4M2367.1 476.4L2401.1 510.4M2373.9 476.4L2407.9 510.4M2380.7 476.4L2414.7 510.4" stroke="#a3412e" stroke-width="1.8" fill="none"/></g>
<path d="M 2342.3 493.4 A 7.5 7.5 0 1 0 2357.4 493.4 A 7.5 7.5 0 1 0 2342.3 493.4 Z" stroke="#000" stroke-width="3.4" fill="none" />
<path d="M 2358.6 495.9 A 7.5 7.5 0 1 0 2373.6 495.9 A 7.5 7.5 0 1 0 2358.6 495.9 Z" fill="#fdf1ec" stroke="none" />
<g clip-path="url(#c79)" ><path d="M2301.2 478.9L2335.2 512.9M2308 478.9L2342 512.9M2314.9 478.9L2348.9 512.9M2321.7 478.9L2355.7 512.9M2328.6 478.9L2362.6 512.9M2335.4 478.9L2369.4 512.9M2342.2 478.9L2376.2 512.9M2349.1 478.9L2383.1 512.9M2355.9 478.9L2389.9 512.9M2362.7 478.9L2396.7 512.9M2369.6 478.9L2403.6 512.9M2376.4 478.9L2410.4 512.9M2383.2 478.9L2417.2 512.9M2390.1 478.9L2424.1 512.9M2396.9 478.9L2430.9 512.9" stroke="#a3412e" stroke-width="1.8" fill="none"/></g>
<path d="M 2358.6 495.9 A 7.5 7.5 0 1 0 2373.6 495.9 A 7.5 7.5 0 1 0 2358.6 495.9 Z" stroke="#000" stroke-width="3.4" fill="none" />
<path d="M 2375.7 499.4 A 7.5 7.5 0 1 0 2390.7 499.4 A 7.5 7.5 0 1 0 2375.7 499.4 Z" fill="#fdf1ec" stroke="none" />
<g clip-path="url(#c80)" ><path d="M2318.4 482.4L2352.4 516.4M2325.2 482.4L2359.2 516.4M2332.1 482.4L2366.1 516.4M2338.9 482.4L2372.9 516.4M2345.7 482.4L2379.7 516.4M2352.6 482.4L2386.6 516.4M2359.4 482.4L2393.4 516.4M2366.2 482.4L2400.2 516.4M2373.1 482.4L2407.1 516.4M2379.9 482.4L2413.9 516.4M2386.7 482.4L2420.7 516.4M2393.6 482.4L2427.6 516.4M2400.4 482.4L2434.4 516.4M2407.2 482.4L2441.2 516.4M2414.1 482.4L2448.1 516.4" stroke="#a3412e" stroke-width="1.8" fill="none"/></g>
<path d="M 2375.7 499.4 A 7.5 7.5 0 1 0 2390.7 499.4 A 7.5 7.5 0 1 0 2375.7 499.4 Z" stroke="#000" stroke-width="3.4" fill="none" />
<path d="M 2391.9 502.8 A 7.5 7.5 0 1 0 2406.9 502.8 A 7.5 7.5 0 1 0 2391.9 502.8 Z" fill="#fdf1ec" stroke="none" />
<g clip-path="url(#c81)" ><path d="M2334.6 485.8L2368.6 519.8M2341.4 485.8L2375.4 519.8M2348.3 485.8L2382.3 519.8M2355.1 485.8L2389.1 519.8M2361.9 485.8L2395.9 519.8M2368.8 485.8L2402.8 519.8M2375.6 485.8L2409.6 519.8M2382.4 485.8L2416.4 519.8M2389.3 485.8L2423.3 519.8M2396.1 485.8L2430.1 519.8M2402.9 485.8L2436.9 519.8M2409.8 485.8L2443.8 519.8M2416.6 485.8L2450.6 519.8M2423.5 485.8L2457.5 519.8M2430.3 485.8L2464.3 519.8" stroke="#a3412e" stroke-width="1.8" fill="none"/></g>
<path d="M 2391.9 502.8 A 7.5 7.5 0 1 0 2406.9 502.8 A 7.5 7.5 0 1 0 2391.9 502.8 Z" stroke="#000" stroke-width="3.4" fill="none" />
<path d="M 2409 506.2 A 7.5 7.5 0 1 0 2424 506.2 A 7.5 7.5 0 1 0 2409 506.2 Z" fill="#fdf1ec" stroke="none" />
<g clip-path="url(#c82)" ><path d="M2351.7 489.2L2385.7 523.2M2358.5 489.2L2392.5 523.2M2365.3 489.2L2399.3 523.2M2372.2 489.2L2406.2 523.2M2379 489.2L2413 523.2M2385.8 489.2L2419.8 523.2M2392.7 489.2L2426.7 523.2M2399.5 489.2L2433.5 523.2M2406.3 489.2L2440.3 523.2M2413.2 489.2L2447.2 523.2M2420 489.2L2454 523.2M2426.9 489.2L2460.9 523.2M2433.7 489.2L2467.7 523.2M2440.5 489.2L2474.5 523.2M2447.4 489.2L2481.4 523.2" stroke="#a3412e" stroke-width="1.8" fill="none"/></g>
<path d="M 2409 506.2 A 7.5 7.5 0 1 0 2424 506.2 A 7.5 7.5 0 1 0 2409 506.2 Z" stroke="#000" stroke-width="3.4" fill="none" />
<path d="M 2425.2 507 A 7.5 7.5 0 1 0 2440.3 507 A 7.5 7.5 0 1 0 2425.2 507 Z" fill="#fdf1ec" stroke="none" />
<g clip-path="url(#c83)" ><path d="M2367.8 490L2401.8 524M2374.7 490L2408.7 524M2381.5 490L2415.5 524M2388.3 490L2422.3 524M2395.2 490L2429.2 524M2402 490L2436 524M2408.9 490L2442.9 524M2415.7 490L2449.7 524M2422.5 490L2456.5 524M2429.4 490L2463.4 524M2436.2 490L2470.2 524M2443 490L2477 524M2449.9 490L2483.9 524M2456.7 490L2490.7 524M2463.5 490L2497.5 524" stroke="#a3412e" stroke-width="1.8" fill="none"/></g>
<path d="M 2425.2 507 A 7.5 7.5 0 1 0 2440.3 507 A 7.5 7.5 0 1 0 2425.2 507 Z" stroke="#000" stroke-width="3.4" fill="none" />
<path d="M 2442.3 507 A 7.5 7.5 0 1 0 2457.3 507 A 7.5 7.5 0 1 0 2442.3 507 Z" fill="#fdf1ec" stroke="none" />
<g clip-path="url(#c84)" ><path d="M2384.9 490L2418.9 524M2391.8 490L2425.8 524M2398.6 490L2432.6 524M2405.4 490L2439.4 524M2412.3 490L2446.3 524M2419.1 490L2453.1 524M2425.9 490L2459.9 524M2432.8 490L2466.8 524M2439.6 490L2473.6 524M2446.4 490L2480.4 524M2453.3 490L2487.3 524M2460.1 490L2494.1 524M2467 490L2501 524M2473.8 490L2507.8 524M2480.6 490L2514.6 524" stroke="#a3412e" stroke-width="1.8" fill="none"/></g>
<path d="M 2442.3 507 A 7.5 7.5 0 1 0 2457.3 507 A 7.5 7.5 0 1 0 2442.3 507 Z" stroke="#000" stroke-width="3.4" fill="none" />
<path d="M 2458.5 507 A 7.5 7.5 0 1 0 2473.6 507 A 7.5 7.5 0 1 0 2458.5 507 Z" fill="#fdf1ec" stroke="none" />
<g clip-path="url(#c85)" ><path d="M2401.2 490L2435.2 524M2408 490L2442 524M2414.8 490L2448.8 524M2421.7 490L2455.7 524M2428.5 490L2462.5 524M2435.3 490L2469.3 524M2442.2 490L2476.2 524M2449 490L2483 524M2455.8 490L2489.8 524M2462.7 490L2496.7 524M2469.5 490L2503.5 524M2476.3 490L2510.3 524M2483.2 490L2517.2 524M2490 490L2524 524M2496.9 490L2530.9 524" stroke="#a3412e" stroke-width="1.8" fill="none"/></g>
<path d="M 2458.5 507 A 7.5 7.5 0 1 0 2473.6 507 A 7.5 7.5 0 1 0 2458.5 507 Z" stroke="#000" stroke-width="3.4" fill="none" />
<path d="M 2475.6 507 A 7.5 7.5 0 1 0 2490.7 507 A 7.5 7.5 0 1 0 2475.6 507 Z" fill="#fdf1ec" stroke="none" />
<g clip-path="url(#c86)" ><path d="M2418.3 490L2452.3 524M2425.1 490L2459.1 524M2431.9 490L2465.9 524M2438.8 490L2472.8 524M2445.6 490L2479.6 524M2452.4 490L2486.4 524M2459.3 490L2493.3 524M2466.1 490L2500.1 524M2472.9 490L2506.9 524M2479.8 490L2513.8 524M2486.6 490L2520.6 524M2493.4 490L2527.4 524M2500.3 490L2534.3 524M2507.1 490L2541.1 524M2513.9 490L2547.9 524" stroke="#a3412e" stroke-width="1.8" fill="none"/></g>
<path d="M 2475.6 507 A 7.5 7.5 0 1 0 2490.7 507 A 7.5 7.5 0 1 0 2475.6 507 Z" stroke="#000" stroke-width="3.4" fill="none" />
<path d="M 2490.2 507 A 7.5 7.5 0 1 0 2505.2 507 A 7.5 7.5 0 1 0 2490.2 507 Z" fill="#fdf1ec" stroke="none" />
<g clip-path="url(#c87)" ><path d="M2432.8 490L2466.8 524M2439.6 490L2473.6 524M2446.4 490L2480.4 524M2453.3 490L2487.3 524M2460.1 490L2494.1 524M2467 490L2501 524M2473.8 490L2507.8 524M2480.6 490L2514.6 524M2487.5 490L2521.5 524M2494.3 490L2528.3 524M2501.1 490L2535.1 524M2508 490L2542 524M2514.8 490L2548.8 524M2521.6 490L2555.6 524M2528.5 490L2562.5 524" stroke="#a3412e" stroke-width="1.8" fill="none"/></g>
<path d="M 2490.2 507 A 7.5 7.5 0 1 0 2505.2 507 A 7.5 7.5 0 1 0 2490.2 507 Z" stroke="#000" stroke-width="3.4" fill="none" />
<g clip-path="url(#c88)" ><path d="M2500.1 521.6L2529.1 550.6M2528.5 521.6L2557.5 550.6M2556.8 521.6L2585.8 550.6M2585.2 521.6L2614.2 550.6M2613.5 521.6L2642.5 550.6M2641.9 521.6L2670.9 550.6M2670.3 521.6L2699.3 550.6" stroke="#000" stroke-width="2.1" fill="none"/></g>
<path d="M 2552.3 523.6 L 2660 523.6 M 2552.3 540.5 L 2559.7 548.9 L 2660 548.9" stroke="#000" stroke-width="3.4" fill="none" />
<path d="M 2638.6 554.9 L 2638.6 564.3 L 2660 564.3 M 2630.1 554.9 L 2638.6 554.9" stroke="#000" stroke-width="3.4" fill="none" />
<path d="M 2402 547.2 L 2402 632" stroke="#000" stroke-width="1.6" fill="none" />
<g clip-path="url(#c89)" ><path d="M2637.5 238.7L2708.6 238.7M2637.5 247.1L2708.6 247.1M2637.5 255.5L2708.6 255.5M2637.5 263.8L2708.6 263.8M2637.5 272.2L2708.6 272.2M2637.5 280.6L2708.6 280.6M2637.5 289L2708.6 289M2637.5 297.3L2708.6 297.3M2637.5 305.7L2708.6 305.7" stroke="#000" stroke-width="3.4" fill="none"/></g>
<g clip-path="url(#c90)" ><path d="M2638 245L2708.6 245M2638 253.4L2708.6 253.4M2638 261.8L2708.6 261.8M2638 270.2L2708.6 270.2M2638 278.5L2708.6 278.5M2638 286.9L2708.6 286.9M2638 295.3L2708.6 295.3M2638 303.6L2708.6 303.6" stroke="#a5523f" stroke-width="1.8" fill="none"/></g>
<path d="M 2640 297 Q 2701.5 286.4 2706.3 247.9" stroke="#a5523f" stroke-width="1.9" fill="none" />
<path d="M 2639.5 247.1 L 2639.5 298.3" stroke="#000" stroke-width="3.4" fill="none" />
<g clip-path="url(#c91)" ><path d="M2620.2 245.1L2672.9 297.8M2648.9 245.1L2701.6 297.8M2677.7 245.1L2730.4 297.8M2706.4 245.1L2759.1 297.8M2735.1 245.1L2787.8 297.8M2763.8 245.1L2816.5 297.8M2792.5 245.1L2845.2 297.8M2821.2 245.1L2873.9 297.8M2849.9 245.1L2902.6 297.8M2878.6 245.1L2931.3 297.8M2907.3 245.1L2960 297.8M2936 245.1L2988.7 297.8M2964.7 245.1L3017.4 297.8M2993.4 245.1L3046.1 297.8M3022.1 245.1L3074.8 297.8M3050.8 245.1L3103.5 297.8M3079.6 245.1L3132.3 297.8M3108.3 245.1L3161 297.8M3137 245.1L3189.7 297.8M3165.7 245.1L3218.4 297.8M3194.4 245.1L3247.1 297.8M3223.1 245.1L3275.8 297.8M3251.8 245.1L3304.5 297.8" stroke="#000" stroke-width="2.2" fill="none"/></g>
<path d="M 2629.7 247.1 L 3226.4 247.1 L 3226.4 564.9" stroke="#000" stroke-width="4.0" fill="none" />
<path d="M 3221.3 247.9 L 3225.8 253.1" stroke="#000" stroke-width="1.8" fill="none" />
<path d="M 2640 287.6 L 2964.7 287.6 L 2964.7 295.8 L 2979.2 295.8" stroke="#000" stroke-width="3.4" fill="none" />
<path d="M 2706.6 247.1 L 2706.6 271 L 2699.8 271" stroke="#000" stroke-width="3.4" fill="none" />
<path d="M 2980 486.3 L 2980 270.7 L 3224.7 270.7" stroke="#000" stroke-width="3.4" fill="none" />
<path d="M 2974.9 295.8 L 2974.9 486.3" stroke="#000" stroke-width="1.8" fill="none" />
<path d="M 2727.1 293.2 L 2867.3 293.2 L 2867.3 308.9 L 2765.6 309.5 L 2745.9 331.2 L 2638.3 333.4 L 2638.3 313.7 L 2725.4 309.5 L 2725.4 293.2 Z" fill="#f4fafc"/><g clip-path="url(#c92)" ><path d="M2622.2 291.2L2578 335.4M2641.5 291.2L2597.3 335.4M2660.9 291.2L2616.7 335.4M2680.2 291.2L2636 335.4M2699.5 291.2L2655.3 335.4M2718.8 291.2L2674.6 335.4M2738.1 291.2L2693.9 335.4M2757.4 291.2L2713.2 335.4M2776.7 291.2L2732.5 335.4M2796 291.2L2751.8 335.4M2815.3 291.2L2771.1 335.4M2834.6 291.2L2790.4 335.4M2853.9 291.2L2809.7 335.4M2873.2 291.2L2829 335.4M2892.6 291.2L2848.4 335.4M2911.9 291.2L2867.7 335.4M2931.2 291.2L2887 335.4M2576 291.2L2620.2 335.4M2595.3 291.2L2639.5 335.4M2614.6 291.2L2658.8 335.4M2633.9 291.2L2678.1 335.4M2653.2 291.2L2697.4 335.4M2672.5 291.2L2716.7 335.4M2691.8 291.2L2736 335.4M2711.1 291.2L2755.3 335.4M2730.5 291.2L2774.7 335.4M2749.8 291.2L2794 335.4M2769.1 291.2L2813.3 335.4M2788.4 291.2L2832.6 335.4M2807.7 291.2L2851.9 335.4M2827 291.2L2871.2 335.4M2846.3 291.2L2890.5 335.4M2865.6 291.2L2909.8 335.4M2884.9 291.2L2929.1 335.4" stroke="#7fbbd8" stroke-width="2.0" fill="none"/></g>
<path d="M 2867.3 293.2 L 2725.4 293.2 L 2725.4 309.5 L 2638.3 313.7" stroke="#000" stroke-width="3.4" fill="none" />
<path d="M 2765.6 309.5 L 2867.3 309.5" stroke="#000" stroke-width="2.5999999999999996" fill="none" />
<path d="M 2765.6 309.5 L 2745.9 331.7" stroke="#000" stroke-width="3.4" fill="none" />
<path d="M 2638.3 333.7 L 2763.9 332.5" stroke="#000" stroke-width="4.6" fill="none" />
<path d="M 2638.3 349.6 L 2754.5 342.8 L 2763.9 332.5 L 2763.9 392.3 M 2754.5 342.8 L 2754.5 391.5" stroke="#000" stroke-width="3.4" fill="none" />
<path d="M 2638.3 391.5 L 2763.9 391.5 M 2638.3 418.8 L 2763.9 418.8" stroke="#000" stroke-width="3.6999999999999997" fill="none" />
<path d="M 2751.1 391.5 L 2751.1 418.8" stroke="#000" stroke-width="3.4" fill="none" />
<path d="M 2821.1 315.4 L 2867.3 315.4 L 2867.3 323.1 L 2921.9 323.1 L 2921.9 313.7 L 2956.1 318.9 L 3156.4 318.9 A 19.7 19.7 0 0 1 3156.4 358.2 L 2956.1 358.2 L 2921.9 363.3 L 2921.9 353 L 2867.3 353 L 2867.3 362.4 L 2788.7 362.4 L 2788.7 355.6 L 2855.3 355.6 L 2863.8 338.5 L 2855.3 321.4 L 2819.4 321.4 Z" fill="#fff9f7"/><g clip-path="url(#c93)" ><path d="M2728.9 272.3L2596.5 404.7M2748.1 272.3L2615.7 404.7M2767.2 272.3L2634.8 404.7M2786.3 272.3L2653.9 404.7M2805.5 272.3L2673.1 404.7M2824.6 272.3L2692.2 404.7M2843.8 272.3L2711.4 404.7M2862.9 272.3L2730.5 404.7M2882 272.3L2749.6 404.7M2901.2 272.3L2768.8 404.7M2920.3 272.3L2787.9 404.7M2939.4 272.3L2807 404.7M2958.6 272.3L2826.2 404.7M2977.7 272.3L2845.3 404.7M2996.9 272.3L2864.5 404.7M3016 272.3L2883.6 404.7M3035.1 272.3L2902.7 404.7M3054.3 272.3L2921.9 404.7M3073.4 272.3L2941 404.7M3092.6 272.3L2960.2 404.7M3111.7 272.3L2979.3 404.7M3130.8 272.3L2998.4 404.7M3150 272.3L3017.6 404.7M3169.1 272.3L3036.7 404.7M3188.2 272.3L3055.8 404.7M3207.4 272.3L3075 404.7M3226.5 272.3L3094.1 404.7M3245.7 272.3L3113.3 404.7M3264.8 272.3L3132.4 404.7M3283.9 272.3L3151.5 404.7M3303.1 272.3L3170.7 404.7M3322.2 272.3L3189.8 404.7M3341.3 272.3L3208.9 404.7" stroke="#b5523a" stroke-width="1.8" fill="none"/></g>
<path d="M 2869 288.1 L 2963.8 288.1 L 2963.8 295.8 L 2974.1 295.8 L 2974.1 316.3 L 2956.1 318 L 2921.9 312.9 L 2921.9 323.1 L 2869 323.1 Z" fill="#fafdf8"/><g clip-path="url(#c94)" ><path d="M2853.9 286.1L2814.9 325.1M2882.9 286.1L2843.9 325.1M2912 286.1L2873 325.1M2941 286.1L2902 325.1M2970.1 286.1L2931.1 325.1M2999.1 286.1L2960.1 325.1M3028.2 286.1L2989.2 325.1M2812.3 286.1L2851.3 325.1M2841.3 286.1L2880.3 325.1M2870.4 286.1L2909.4 325.1M2899.4 286.1L2938.4 325.1M2928.5 286.1L2967.5 325.1M2957.5 286.1L2996.5 325.1M2986.6 286.1L3025.6 325.1" stroke="#78b84c" stroke-width="1.9000000000000001" fill="none"/></g>
<path d="M 2869 353.9 L 2921.9 353.9 L 2921.9 363.3 L 2956.1 358.2 L 2974.1 359 L 2974.1 491.4 L 2869 491.4 L 2869 439.3 L 2810 439.3 L 2810 371.8 L 2869 371.8 Z" fill="#fafdf8"/><g clip-path="url(#c95)" ><path d="M2788.1 351.9L2646.6 493.4M2817.1 351.9L2675.6 493.4M2846.2 351.9L2704.7 493.4M2875.2 351.9L2733.7 493.4M2904.3 351.9L2762.8 493.4M2933.3 351.9L2791.8 493.4M2962.4 351.9L2820.9 493.4M2991.4 351.9L2849.9 493.4M3020.5 351.9L2879 493.4M3049.5 351.9L2908 493.4M3078.6 351.9L2937.1 493.4M3107.6 351.9L2966.1 493.4M3136.7 351.9L2995.2 493.4M2645.7 351.9L2787.2 493.4M2674.8 351.9L2816.3 493.4M2703.8 351.9L2845.3 493.4M2732.9 351.9L2874.4 493.4M2761.9 351.9L2903.4 493.4M2790.9 351.9L2932.4 493.4M2820 351.9L2961.5 493.4M2849 351.9L2990.5 493.4M2878.1 351.9L3019.6 493.4M2907.1 351.9L3048.6 493.4M2936.2 351.9L3077.7 493.4M2965.2 351.9L3106.7 493.4M2994.3 351.9L3135.8 493.4" stroke="#78b84c" stroke-width="1.9000000000000001" fill="none"/></g>
<path d="M 2956.1 358.2 L 3156.4 358.2 A 19.7 19.7 0 0 0 3156.4 318.9 L 2956.1 318.9 Q 2939 316.3 2921.9 312.9 L 2921.9 323.1 L 2869 323.1 L 2869 287.2" stroke="#000" stroke-width="3.4" fill="none" />
<path d="M 2956.1 358.2 Q 2939 360.7 2921.9 363.3 L 2921.9 353 L 2869 353 L 2869 371.8 L 2810 371.8 L 2810 439.3 L 2869 439.3 L 2869 486.3" stroke="#000" stroke-width="3.4" fill="none" />
<path d="M 2867.3 314.6 L 2821.1 314.6 L 2819.4 321.4 Q 2810.9 335.9 2788.7 337.7 L 2788.7 362.4 L 2867.3 362.4" stroke="#000" stroke-width="3.4" fill="none" />
<path d="M 2819.4 321.4 L 2855.3 321.4 L 2863.8 338.5 L 2855.3 355.6 L 2788.7 355.6 M 2855.3 321.4 L 2855.3 355.6" stroke="#000" stroke-width="3.4" fill="none" />
<path d="M 2845 362.4 L 2845 371.8" stroke="#000" stroke-width="3.4" fill="none" />
<path d="M 2775 338 L 3190.6 338" stroke="#a5523f" stroke-width="1.9" fill="none" />
<path d="M 2809.2 397.5 Q 2802.3 403.4 2788.7 404.6 L 2788.7 429.9 L 2809.2 429.9" stroke="#000" stroke-width="3.4" fill="none" />
<path d="M 2974.9 385.5 L 3154.7 385.5 A 19.7 19.7 0 0 1 3154.7 424.8 L 2974.9 424.8" stroke="#000" stroke-width="3.4" fill="none" />
<g clip-path="url(#c96)" ><path d="M2576.4 512.7L2630 566.3M2604.8 512.7L2658.4 566.3M2633.2 512.7L2686.8 566.3M2661.5 512.7L2715.1 566.3M2689.9 512.7L2743.5 566.3M2718.3 512.7L2771.9 566.3M2746.6 512.7L2800.2 566.3M2775 512.7L2828.6 566.3M2803.4 512.7L2857 566.3M2831.7 512.7L2885.3 566.3M2860.1 512.7L2913.7 566.3M2888.5 512.7L2942.1 566.3M2916.8 512.7L2970.4 566.3M2945.2 512.7L2998.8 566.3M2973.6 512.7L3027.2 566.3M3001.9 512.7L3055.5 566.3M3030.3 512.7L3083.9 566.3M3058.7 512.7L3112.3 566.3M3087 512.7L3140.6 566.3M3115.4 512.7L3169 566.3M3143.7 512.7L3197.3 566.3M3172.1 512.7L3225.7 566.3" stroke="#000" stroke-width="2.2" fill="none"/></g>
<g clip-path="url(#c97)" ><path d="M2631.7 538.4L2603.8 566.3M2660.4 538.4L2632.5 566.3M2689.1 538.4L2661.2 566.3M2717.8 538.4L2689.9 566.3M2746.5 538.4L2718.6 566.3" stroke="#000" stroke-width="2.8" fill="none"/></g>
<path d="M 2638.3 523.3 L 2964.7 523.3 L 2964.7 514.7 L 2974.9 514.7" stroke="#000" stroke-width="3.4" fill="none" />
<path d="M 2638.3 564.3 L 3034.7 564.3 L 3034.7 555.7 L 3070.6 555.7 L 3070.6 564.3 L 3127.3 564.3 L 3127.3 555.7 L 3160.7 555.7 L 3160.7 540.4" stroke="#000" stroke-width="3.4" fill="none" />
<path d="M 3127.3 558.3 L 3199.1 558.3 M 3199.1 540.4 L 3199.1 564.3 L 3226.4 564.3" stroke="#000" stroke-width="3.4" fill="none" />
<path d="M 3128.2 557.1 L 3159.5 557.1" stroke="#777" stroke-width="2.2" fill="none" />
<g clip-path="url(#c98)" ><path d="M3141.1 538.4L3169 566.3M3169.4 538.4L3197.3 566.3M3197.8 538.4L3225.7 566.3M3226.2 538.4L3254.1 566.3M3254.5 538.4L3282.4 566.3" stroke="#000" stroke-width="2.2" fill="none"/></g>
<path d="M 3035.6 558.3 L 3069.7 558.3" stroke="#777" stroke-width="2.2" fill="none" />
<path d="M 2638.3 549.8 L 2665.6 549.8 L 2670.8 540.4 L 2706.6 540.4 L 2706.6 564.3" stroke="#000" stroke-width="3.4" fill="none" />
<path d="M 2980 540.4 L 3224.7 540.4" stroke="#000" stroke-width="3.4" fill="none" />
<path d="M 2638.3 478 L 2745.9 480.6 L 2765.6 501.1 L 2765.6 518.2 L 2725.4 518.2 L 2725.4 501.1 L 2638.3 496.8 Z" fill="#f4fafc"/><g clip-path="url(#c99)" ><path d="M2620.2 476L2576 520.2M2639.5 476L2595.3 520.2M2658.8 476L2614.6 520.2M2678.1 476L2633.9 520.2M2697.4 476L2653.2 520.2M2716.7 476L2672.5 520.2M2736 476L2691.8 520.2M2755.3 476L2711.1 520.2M2774.6 476L2730.4 520.2M2793.9 476L2749.7 520.2M2813.2 476L2769 520.2M2583.2 476L2627.4 520.2M2602.5 476L2646.7 520.2M2621.8 476L2666 520.2M2641.1 476L2685.3 520.2M2660.4 476L2704.6 520.2M2679.7 476L2723.9 520.2M2699 476L2743.2 520.2M2718.3 476L2762.5 520.2M2737.7 476L2781.9 520.2M2757 476L2801.2 520.2M2776.3 476L2820.5 520.2" stroke="#7fbbd8" stroke-width="2.0" fill="none"/></g>
<path d="M 2638.3 475.4 L 2763.9 478" stroke="#000" stroke-width="4.6" fill="none" />
<path d="M 2745.9 480.6 L 2765.6 501.1 L 2765.6 518.2 M 2638.3 496.8 L 2725.4 501.1 L 2725.4 518.2 L 2869 518.2" stroke="#000" stroke-width="3.4" fill="none" />
<path d="M 2763.9 419 L 2763.9 478 L 2754.5 466.9 L 2754.5 419 M 2638.3 461.8 L 2754.5 466.9" stroke="#000" stroke-width="3.4" fill="none" />
<path d="M 2788.7 405.4 L 2788.7 430.2 L 2809.2 430.2" stroke="#000" stroke-width="3.4" fill="none" />
<path d="M 2788.7 490.8 L 2974.1 490.8 M 2788.7 490.8 L 2788.7 497.7 L 2869 497.7 M 2765.6 501.1 L 2869 501.1" stroke="#000" stroke-width="3.4" fill="none" />
<path d="M 2790.4 494.2 L 2804 494.2 M 2807.5 494.2 L 2838.2 494.2 M 2841.6 494.2 L 2860.4 494.2" stroke="#000" stroke-width="1.4" fill="none" />
<path d="M 2725.4 521.2 L 2964.7 521.2" stroke="#000" stroke-width="1.8" fill="none" />
<path d="M 2875.8 509.6 Q 2913.4 525 2940.7 513 Q 2954.4 506.2 2961.2 496.8 Q 2964.7 492.5 2974.9 492.5" stroke="#000" stroke-width="6.4" fill="none" />
<path d="M 2875.8 509.6 Q 2913.4 525 2940.7 513 Q 2954.4 506.2 2961.2 496.8 Q 2964.7 492.5 2974.9 492.5" stroke="#fefefe" stroke-width="1.6" fill="none" />
<circle cx="482.8" cy="1080.6" r="218.6" fill="none" stroke="#000" stroke-width="2.0"/>
<circle cx="482.8" cy="1080.6" r="136.1" fill="none" stroke="url(#dots)" stroke-width="19.6"/>
<circle cx="422.8" cy="1078.6" r="57.0" fill="none" stroke="#000" stroke-width="2.0"/>
<circle cx="422.8" cy="1078.6" r="22.6" fill="url(#dots)" stroke="none"/>
<circle cx="544.9" cy="1078.6" r="57.0" fill="none" stroke="#000" stroke-width="2.0"/>
<circle cx="544.9" cy="1078.6" r="21.5" fill="url(#dots)" stroke="none"/>
<circle cx="484.7" cy="1010.9" r="33.3" fill="none" stroke="#000" stroke-width="2.0"/>
<circle cx="484.7" cy="1146.2" r="33.3" fill="none" stroke="#000" stroke-width="2.0"/>
<circle cx="469.8" cy="997.8" r="7.4" fill="none" stroke="#000" stroke-width="2.0"/>
<circle cx="493.8" cy="997.8" r="7.4" fill="none" stroke="#000" stroke-width="2.0"/>
<circle cx="472.8" cy="1014.4" r="7.4" fill="none" stroke="#000" stroke-width="2.0"/>
<circle cx="503.1" cy="1014.4" r="7.4" fill="none" stroke="#000" stroke-width="2.0"/>
<circle cx="472.8" cy="1032.1" r="7.4" fill="none" stroke="#000" stroke-width="2.0"/>
<circle cx="493.8" cy="1032.1" r="7.4" fill="none" stroke="#000" stroke-width="2.0"/>
<circle cx="472.8" cy="1125.4" r="7.4" fill="none" stroke="#000" stroke-width="2.0"/>
<circle cx="493.8" cy="1125.4" r="7.4" fill="none" stroke="#000" stroke-width="2.0"/>
<circle cx="472.8" cy="1143.0" r="7.4" fill="none" stroke="#000" stroke-width="2.0"/>
<circle cx="503.1" cy="1143.0" r="7.4" fill="none" stroke="#000" stroke-width="2.0"/>
<circle cx="469.8" cy="1159.8" r="7.4" fill="none" stroke="#000" stroke-width="2.0"/>
<circle cx="493.8" cy="1159.8" r="7.4" fill="none" stroke="#000" stroke-width="2.0"/>
<path d="M 482.7 823 L 482.7 1026 M 482.7 1064.4 L 482.7 1102.2 M 482.7 1140.2 L 482.7 1343.5" stroke="#000" stroke-width="2.0" fill="none" />
<path d="M 492.4 1024 L 768.2 931.8 L 1145 931.8" stroke="#000" stroke-width="2.0" fill="none" />
<path d="M 545 1076.6 L 767.1 1051.7 L 1155.5 1051.7" stroke="#000" stroke-width="2.0" fill="none" />
<path d="M 574.2 1105.2 L 769.2 1170.7 L 1145 1170.7" stroke="#000" stroke-width="2.0" fill="none" />
<path d="M 604.5 1162.8 L 794.4 1290.9 L 1139.8 1290.9" stroke="#000" stroke-width="2.0" fill="none" />
<path d="M 599 1218.3 L 768.8 1410.6 L 1207.5 1410.6" stroke="#000" stroke-width="2.0" fill="none" />
<path d="M 592 271 L 662.5 116.9 L 1019.6 116.9" stroke="#000" stroke-width="2.0" fill="none" />
<path d="M 2630.8 246.3 L 2745.6 134.8 L 3098.5 134.8" stroke="#000" stroke-width="2.0" fill="none" />
<path d="M 959.8 554 L 959.8 767.2 M 2401.8 546 L 2401.8 767" stroke="#000" stroke-width="1.7" fill="none" />
<path d="M 962 752.2 L 2400 752.2" stroke="#000" stroke-width="2.0" fill="none" />
<path d="M 960.5 752.2 L 991 746.8 L 991 757.6 Z" fill="#000" stroke="none" />
<path d="M 2401.2 752.2 L 2371 746.8 L 2371 757.6 Z" fill="#000" stroke="none" />
<circle cx="1899.7" cy="1093" r="148.5" fill="none" stroke="#000" stroke-width="2.0"/>
<circle cx="2848.5" cy="1093" r="148.5" fill="none" stroke="#000" stroke-width="2.0"/>
<rect x="1857.9" y="990" width="71" height="27.4" fill="none" stroke="#000" stroke-width="2.0"/>
<rect x="2813.7" y="990" width="70.7" height="27.4" fill="none" stroke="#000" stroke-width="2.0"/>
<circle cx="1835.3" cy="1091.7" r="34.6" fill="none" stroke="#000" stroke-width="2.0"/>
<circle cx="1963.0" cy="1091.7" r="34.6" fill="none" stroke="#000" stroke-width="2.0"/>
<circle cx="1899.4" cy="1178.4" r="32.3" fill="none" stroke="#000" stroke-width="2.0"/>
<circle cx="2791.4" cy="1092.2" r="35.6" fill="#000"/>
<circle cx="2918.8" cy="1092.2" r="35.6" fill="#000"/>
<circle cx="2855.5" cy="1178.4" r="33.0" fill="#000"/>
<path d="M 1963 1092.2 L 2760 1092.2" stroke="#000" stroke-width="1.8" fill="none" />
<path d="M 2439 1092.2 L 2716.3 1092.2" stroke="#000" stroke-width="3.4000000000000004" fill="none" />
<path d="M 1898.6 1178.4 L 2830 1178.4" stroke="#000" stroke-width="3.4000000000000004" fill="none" />
<path d="M 1836.1 1091.2 L 1836.1 1315.8 L 2062.6 1315.8 L 2062.6 1218.5 L 2689.6 1218.5 L 2689.6 1318.4 L 2858.4 1318.4 L 2858.4 1200" stroke="#000" stroke-width="3.4000000000000004" fill="none" stroke-linejoin="miter"/>
<ellipse cx="2225.4" cy="1126.5" rx="32.5" ry="87.9" fill="none" stroke="#000" stroke-width="3.9"/>
<ellipse cx="2472.8" cy="1127" rx="32.5" ry="87.9" fill="none" stroke="#000" stroke-width="3.9"/>
<path d="M 1949.1 1315.8 L 1949.1 1400.3 M 1883 1400.3 L 2021.3 1400.3" stroke="#000" stroke-width="2.8000000000000003" fill="none" />
<path d="M 1899.4 1400.3 L 1873.7 1425 M 1934.2 1400.3 L 1908.6 1425 M 1970.1 1400.3 L 1944.4 1425 M 2005.9 1400.3 L 1980.3 1425" stroke="#000" stroke-width="2.8000000000000003" fill="none" stroke-linecap="round"/>
<g style="mix-blend-mode:multiply">
<path d="M -102 405.5 L 3250 405.5" stroke="#fdebe6" stroke-width="3.4" fill="none" stroke-dasharray="380 76 77 75"/>
<path d="M 1090.7 331.2 L 1479 331.2 M 1090.7 479.4 L 1479 479.4" stroke="#fdebe6" stroke-width="3.4" fill="none" />
<path d="M 1835.8 331.2 L 2239.5 331.2 M 1835.8 479.4 L 2290 479.4" stroke="#fdebe6" stroke-width="3.4" fill="none" />
<path d="M 1275.1 311.5 L 1275.1 502.5 M 1294.8 311.5 L 1294.8 502.5" stroke="#fdebe6" stroke-width="3.4" fill="none" stroke-dasharray="53 5 5 4 6 4 46 4 5 3 4 2 60"/>
<path d="M 2020.4 309 L 2020.4 499.5 M 2040.9 309 L 2040.9 499.5" stroke="#fdebe6" stroke-width="3.4" fill="none" stroke-dasharray="53 5 5 4 6 4 46 4 5 3 4 2 60"/>
<path d="M 2552.3 540.5 L 2671.9 540.5 M 2506.6 548.9 L 2559.7 548.9 M 2666 548.9 L 2707.3 548.9" stroke="#fdebe6" stroke-width="3.4" fill="none" />
<path d="M -102 405.5 L 3250 405.5" stroke="#a85543" stroke-width="1.75" fill="none" stroke-dasharray="380 76 77 75"/>
<path d="M 1090.7 331.2 L 1479 331.2 M 1090.7 479.4 L 1479 479.4" stroke="#a85543" stroke-width="1.75" fill="none" />
<path d="M 1835.8 331.2 L 2239.5 331.2 M 1835.8 479.4 L 2290 479.4" stroke="#a85543" stroke-width="1.75" fill="none" />
<path d="M 1275.1 311.5 L 1275.1 502.5 M 1294.8 311.5 L 1294.8 502.5" stroke="#a85543" stroke-width="1.75" fill="none" stroke-dasharray="53 5 5 4 6 4 46 4 5 3 4 2 60"/>
<path d="M 2020.4 309 L 2020.4 499.5 M 2040.9 309 L 2040.9 499.5" stroke="#a85543" stroke-width="1.75" fill="none" stroke-dasharray="53 5 5 4 6 4 46 4 5 3 4 2 60"/>
<path d="M 2552.3 540.5 L 2671.9 540.5 M 2506.6 548.9 L 2559.7 548.9 M 2666 548.9 L 2707.3 548.9" stroke="#a85543" stroke-width="1.75" fill="none" />
</g>
<text transform="translate(672.5,104.6) scale(0.820,1)" x="1.2 33.9 77.2 117.0 154.9 192.9 229.1 274.3 294.4 350.2 382.9" y="0" font-size="64.0" style="font-family:'Liberation Serif',serif" xml:space="preserve" >SVP556S-M-1</text>
<text transform="translate(2753.5,120.7) scale(0.820,1)" x="1.3 34.1 77.5 117.4 155.5 193.6 229.9 275.2 295.5 351.4 384.2" y="0" font-size="64.0" style="font-family:'Liberation Serif',serif" xml:space="preserve" >SVP555S-M-1</text>
<text transform="translate(807.5,1037.1) scale(0.920,1)" x="0.5 29.6 58.7 87.8 123.1 145.9 182.0 204.1 233.1" y="0" font-size="56.0" style="font-family:'Liberation Serif',serif" xml:space="preserve" >2*20/0.12</text>
<text transform="translate(810.7,1148.3) scale(0.800,1)" x="1.1 29.9 64.9 110.0 130.2 163.7 209.6" y="0" font-size="56.0" style="font-family:'Liberation Serif',serif" xml:space="preserve" >PVC OD:</text>
<text transform="translate(998.0,1148.3) scale(0.920,1)" x="1.5 44.0 80.1 102.2" y="0" font-size="56.0" style="font-family:'Liberation Serif',serif" xml:space="preserve" >Ø1.5</text>
<text transform="translate(808.6,1285.0) scale(0.920,1)" x="0.5 29.6 64.9 87.8 123.8 145.9 175.0" y="0" font-size="56.0" style="font-family:'Liberation Serif',serif" xml:space="preserve" >60/0.12</text>
<text transform="translate(794.4,1393.8) scale(0.800,1)" x="1.1 29.9 64.9 110.0 130.2 163.7 209.6" y="0" font-size="56.0" style="font-family:'Liberation Serif',serif" xml:space="preserve" >PVC OD:</text>
<text transform="translate(981.6,1393.8) scale(0.920,1)" x="2.6 46.2 80.0 116.6 153.3 176.8 206.5" y="0" font-size="56.0" style="font-family:'Liberation Serif',serif" xml:space="preserve" >Ø6±0.15</text>
<text x="782.5" y="915" font-size="53" style="font-family:'Liberation Serif','Noto Serif CJK SC',serif" textLength="107" lengthAdjust="spacingAndGlyphs">棉线</text>
<text x="241.8" y="1536.6" font-size="56.4" textLength="627.5" lengthAdjust="spacingAndGlyphs">CABLE NO. 3070100012</text>
<text x="238.2" y="1672.8" font-size="56.4" textLength="850.5" lengthAdjust="spacingAndGlyphs">MIC CABLE-3P FEMALE XLR TO</text>
<text x="241.2" y="1736.4" font-size="56.4" textLength="363.5" lengthAdjust="spacingAndGlyphs">3P MALE XLR</text>
<text x="1573" y="740.9" font-size="43.5" style="font-family:'DejaVu Sans','Liberation Sans',sans-serif;font-weight:200" textLength="216" lengthAdjust="spacingAndGlyphs">L-5M,10M</text>
<text x="1824.0" y="1041.7" font-size="41" text-anchor="middle" style="font-family:'DejaVu Sans','Liberation Sans',sans-serif;font-weight:200" transform="translate(1824.0,1041.7) scale(1,0.93) translate(-1824.0,-1041.7)">1</text>
<text x="1958.1" y="1041.7" font-size="41" text-anchor="middle" style="font-family:'DejaVu Sans','Liberation Sans',sans-serif;font-weight:200" transform="translate(1958.1,1041.7) scale(1,0.93) translate(-1958.1,-1041.7)">2</text>
<text x="1900.3" y="1133.3" font-size="41" text-anchor="middle" style="font-family:'DejaVu Sans','Liberation Sans',sans-serif;font-weight:200" transform="translate(1900.3,1133.3) scale(1,0.93) translate(-1900.3,-1133.3)">3</text>
<text x="2796.2" y="1049.4" font-size="41" text-anchor="middle" style="font-family:'DejaVu Sans','Liberation Sans',sans-serif;font-weight:200" transform="translate(2796.2,1049.4) scale(1,0.93) translate(-2796.2,-1049.4)">2</text>
<text x="2906.0" y="1045.6" font-size="41" text-anchor="middle" style="font-family:'DejaVu Sans','Liberation Sans',sans-serif;font-weight:200" transform="translate(2906.0,1045.6) scale(1,0.93) translate(-2906.0,-1045.6)">1</text>
<text x="2844.6" y="1133.3" font-size="41" text-anchor="middle" style="font-family:'DejaVu Sans','Liberation Sans',sans-serif;font-weight:200" transform="translate(2844.6,1133.3) scale(1,0.93) translate(-2844.6,-1133.3)">3</text>

</svg>
</body></html>
